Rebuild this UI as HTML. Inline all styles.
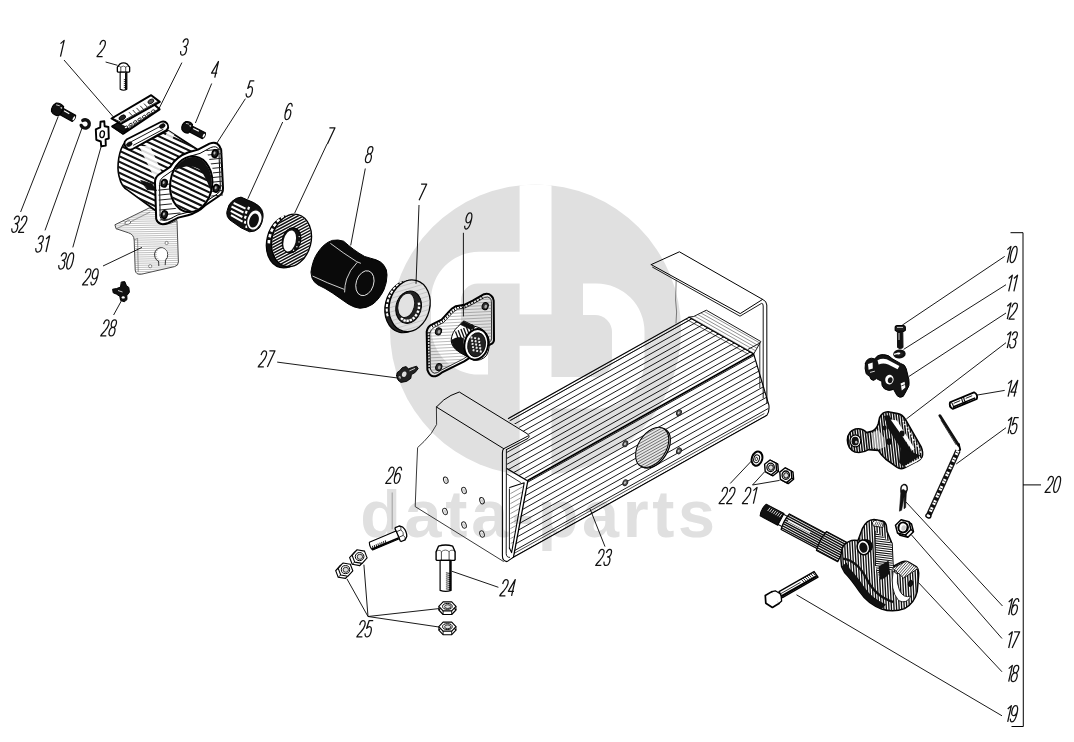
<!DOCTYPE html>
<html><head><meta charset="utf-8"><title>diagram</title>
<style>
html,body{margin:0;padding:0;background:#fff;}
body{width:1074px;height:742px;overflow:hidden;font-family:"Liberation Sans",sans-serif;}
svg{display:block}
.sem{font-family:"Liberation Sans",sans-serif;font-style:italic;font-size:22px;fill:#000;fill-opacity:0;}
.lb{font-family:"Liberation Sans",sans-serif;font-style:italic;font-size:23px;fill:#000;stroke:#fff;stroke-width:0.3px;}
</style></head><body>
<svg width="1074" height="742" viewBox="0 0 1074 742">
<defs><clipPath id="wmc"><circle cx="535.5" cy="330" r="145.5"/></clipPath><clipPath id="c1"><path d="M115.3,224.6 L149.5,207.8 L157,211 L157,222 Q165,227 177,220.5 L178.4,262 Q178.4,265.8 174.5,266.6 L141.5,274.2 Q135.6,275 135.2,270 L134.2,240 Q133.8,234.4 128.5,232.8 L116.4,228.8 Z"/></clipPath><clipPath id="c2"><path d="M124.5,143.0 C119,150 116.5,166 119,176 C121,185 124,188.5 128.3,190.6 L157.5,212 L158,180 L170,167 L188,154 L199,150.5 L168,130.5 L131,149.5 Z"/></clipPath><clipPath id="c3"><path d="M124.5,143.0 C119,150 116.5,166 119,176 C121,185 124,188.5 128.3,190.6 L157.5,212 L158,180 L170,167 L188,154 L199,150.5 L168,130.5 L131,149.5 Z"/></clipPath><clipPath id="c4"><path d="M206,150 L222,146 L223,196 L211,200 L213,170 Z"/></clipPath><clipPath id="c5"><path d="M158,186 L170,182 L172,205 L182,214 L160,224 Z"/></clipPath><clipPath id="c6"><ellipse cx="191.2" cy="184.2" rx="20.2" ry="27.2" transform="rotate(8 191.2 184.2)"/></clipPath><clipPath id="c7"><ellipse cx="291.5" cy="240.4" rx="19.0" ry="26.1" transform="rotate(14 291.5 240.4)"/></clipPath><clipPath id="c8"><ellipse cx="409.6" cy="305.8" rx="19.7" ry="25.7" transform="rotate(14 409.6 305.8)"/></clipPath><clipPath id="c9"><path d="M430.4,368.9 L429.8,333.7 Q430.5,329.3 434.2,327.4 L443.6,322.5 Q446.5,319.5 449.3,316.3 Q453,311.5 457.6,309.2 L465.4,307.8 L473.7,303.6 L484.6,297.4 Q488.3,296.2 490.1,298.2 Q491.3,299.5 491.4,301.6 L491.6,339.0 Q491.4,341.4 488.6,342.6 L463.2,359.0 L441.4,370.0 Q437,373.6 434.3,373.2 Q431.6,372.8 430.4,368.9 Z"/></clipPath><clipPath id="c10"><path d="M694.1,316.3 L706.3,310.2 L760.8,341.5 L753.7,354 L689.1,317.3 Z"/></clipPath><clipPath id="c11"><path d="M508,418.7 L689.1,317.3 L753.7,354.0 L527.8,480.5 L507.2,468.7 L506.4,447.5 L529.3,435.2 Z"/></clipPath><clipPath id="c12"><path d="M527.8,480.5 L753.7,354.0 L768.9,405.2 L766.9,415.3 L512.9,557.6 Z"/></clipPath><clipPath id="c13"><ellipse cx="652.2" cy="447.4" rx="13.5" ry="21.6" transform="rotate(32 652.2 447.4)"/></clipPath><clipPath id="c14"><path d="M510.4,489.4 L523.0,485.2 L512.2,546 L510.4,543 Z"/></clipPath><clipPath id="c15"><path d="M847.4,440 Q847.6,431.4 855.4,429.0 Q862,427.6 866.6,432.6 L871.6,431.4 Q876.6,429.4 878.4,423.4 L879.6,417.6 Q882.4,411.8 888,411.8 L897.6,413.6 Q902.6,414.6 905.4,419.4 L921.0,446.6 Q923.6,452.6 922.0,457.0 Q920.6,459.8 917,461.4 L904.6,467.8 Q900.6,469.6 897.2,467.4 L885.6,459.0 Q881,455.0 878.4,450.4 L868.6,449.6 Q862,453.6 855,452.0 Q847.6,449 847.4,440 Z"/></clipPath><clipPath id="c16"><path d="M847.4,440 Q847.6,431.4 855.4,429.0 Q862,427.6 866.6,432.6 L871.6,431.4 Q876.6,429.4 878.4,423.4 L879.6,417.6 Q882.4,411.8 888,411.8 L897.6,413.6 Q902.6,414.6 905.4,419.4 L921.0,446.6 Q923.6,452.6 922.0,457.0 Q920.6,459.8 917,461.4 L904.6,467.8 Q900.6,469.6 897.2,467.4 L885.6,459.0 Q881,455.0 878.4,450.4 L868.6,449.6 Q862,453.6 855,452.0 Q847.6,449 847.4,440 Z"/></clipPath><clipPath id="c17"><path d="M25,-8.8 L66,-8.8 L66,8.8 L25,8.8 Q22.8,0 25,-8.8 Z"/></clipPath><clipPath id="c18"><path d="M66,-10.6 Q63.6,0 66,10.6 L90,10.6 L90,-10.6 Z"/></clipPath><clipPath id="c19"><path d="M843.4,545.6 Q850,538.6 858,540.6 L862.4,528.6 Q866.4,519.6 874,519.4 L882.6,521 Q886.4,522.6 886.6,527.6 L887.0,531.4 L892.0,543.6 L893.0,566.4 L899.6,563.0 Q904.6,560 909.0,562.4 L916.6,567.0 Q919.2,570.0 918.6,575.6 L917.2,591.6 Q914.6,603.0 904.6,608.6 Q893,612.8 881.6,609.0 Q867.6,603.6 859.6,591.6 Q851.6,579.6 844.6,572.4 L841.6,566.6 Q839.6,553 843.4,545.6 Z"/></clipPath><clipPath id="c20"><path d="M843.4,545.6 Q850,538.6 858,540.6 L862.4,528.6 Q866.4,519.6 874,519.4 L882.6,521 Q886.4,522.6 886.6,527.6 L887.0,531.4 L892.0,543.6 L893.0,566.4 L899.6,563.0 Q904.6,560 909.0,562.4 L916.6,567.0 Q919.2,570.0 918.6,575.6 L917.2,591.6 Q914.6,603.0 904.6,608.6 Q893,612.8 881.6,609.0 Q867.6,603.6 859.6,591.6 Q851.6,579.6 844.6,572.4 L841.6,566.6 Q839.6,553 843.4,545.6 Z"/></clipPath><clipPath id="c21"><path d="M875.0,531.0 L892.0,543.4 L893.0,569.0 L880.0,579.6 L875.4,566 Z"/></clipPath><clipPath id="c22"><path d="M892.6,568.2 L906.5,561.0 L918.5,568.2 L903.6,578.0 Z"/></clipPath></defs>
<rect width="1074" height="742" fill="#fff"/>
<circle cx="535.5" cy="330" r="145.5" fill="#e0e0e0"/>
<g clip-path="url(#wmc)" fill="#fff">
<rect x="519.6" y="180" width="31.9" height="134.4"/>
<rect x="519.6" y="345.8" width="31.9" height="140"/>
<path d="M520,251.8 L479,251.8 A48,48 0 0 0 431,299.8 L431,326.6 A48,48 0 0 0 479,374.6 L488,374.6 L488,345.6 L478,345.6 A17,17 0 0 1 461,328.6 L461,300.5 A17,17 0 0 1 478,283.5 L520,283.5 Z"/>
<path d="M551,408.5 L596.5,408.5 A48,48 0 0 0 644.5,360.5 L644.5,331.5 A48,48 0 0 0 596.5,283.5 L583,283.5 L583,315 L595,315 A17,17 0 0 1 612,332 L612,360 A17,17 0 0 1 595,377 L551,377 Z"/>
</g>
<text x="360.3" y="537" font-family="Liberation Sans, sans-serif" font-weight="bold" font-size="66.5" letter-spacing="3.7" fill="#e0e0e0">data-parts</text>
<g transform="translate(123.5,63.3) rotate(90)">
<path d="M0.8,-3.7500000000000004 Q-1.6,0 0.8,3.7500000000000004 L3.738,6.15 L8.3,6.15 L8.9,5.3500000000000005 L8.9,-5.3500000000000005 L8.3,-6.15 L3.738,-6.15 Z" fill="#fff" stroke="#000" stroke-width="1.3" stroke-linejoin="round" stroke-linecap="round" />
<line x1="3.7" y1="-2.2" x2="8.9" y2="-2.2" stroke="#000" stroke-width="0.7" />
<line x1="3.7" y1="2.7" x2="8.9" y2="2.7" stroke="#000" stroke-width="0.7" />
<path d="M3.738,-6.15 Q1.7800000000000002,-4.1000000000000005 3.738,-2.2363636363636363 Q1.7800000000000002,0 3.738,2.7333333333333334 Q1.9580000000000002,4.1000000000000005 3.738,6.15" fill="none" stroke="#000" stroke-width="0.6" stroke-linejoin="round" stroke-linecap="round" />
<path d="M8.9,-3.35 L26.0,-3.35 Q27.8,0 26.0,3.35 L8.9,3.35 Z" fill="#fff" stroke="#000" stroke-width="1.1" stroke-linejoin="round" stroke-linecap="round" />
<line x1="16.1" y1="-0.3" x2="16.9" y2="-3.1" stroke="#000" stroke-width="0.8" />
<line x1="18.1" y1="-0.3" x2="18.9" y2="-3.1" stroke="#000" stroke-width="0.8" />
<line x1="20.1" y1="-0.3" x2="20.9" y2="-3.1" stroke="#000" stroke-width="0.8" />
<line x1="22.1" y1="-0.3" x2="22.9" y2="-3.1" stroke="#000" stroke-width="0.8" />
<line x1="24.1" y1="-0.3" x2="24.9" y2="-3.1" stroke="#000" stroke-width="0.8" />
<line x1="9.4" y1="-2.4" x2="26.0" y2="-2.4" stroke="#000" stroke-width="1.7" />
</g>
<g transform="translate(52.5,106.5) rotate(29)">
<path d="M10,-3.5 L24.5,-3.5 Q26.5,0 24.5,3.5 L10,3.5 Z" fill="#111" stroke="#000" stroke-width="1.2" stroke-linejoin="round" stroke-linecap="round" />
<line x1="12.2" y1="-1.8" x2="18.2" y2="-1.8" stroke="#fff" stroke-width="1.2" />
<ellipse cx="24.4" cy="0.0" rx="0.9" ry="2.3" transform="rotate(0 24.4 0.0)" fill="#fff" stroke="none" stroke-width="1" />
<path d="M1.6,-4.9 Q5.5,-7.3 9.8,-5.3 Q11.6,0 9.8,5.3 Q5.5,7.3 1.6,4.9 Q-1.6,0 1.6,-4.9 Z" fill="#111" stroke="#000" stroke-width="1.2" stroke-linejoin="round" stroke-linecap="round" />
<line x1="2.4" y1="-3.3" x2="6.1" y2="-4.1" stroke="#ddd" stroke-width="0.9" />
<ellipse cx="8.4" cy="-3.1" rx="1.0" ry="0.7" transform="rotate(0 8.4 -3.1)" fill="#ddd" stroke="none" stroke-width="1" />
</g>
<g transform="translate(182.5,124.8) rotate(27)">
<path d="M9,-3.25 L24,-3.25 Q26.0,0 24,3.25 L9,3.25 Z" fill="#111" stroke="#000" stroke-width="1.2" stroke-linejoin="round" stroke-linecap="round" />
<line x1="11.2" y1="-1.6" x2="17.5" y2="-1.6" stroke="#fff" stroke-width="1.2" />
<ellipse cx="23.9" cy="0.0" rx="0.9" ry="2.0" transform="rotate(0 23.9 0.0)" fill="#fff" stroke="none" stroke-width="1" />
<path d="M1.6,-4.4 Q5.0,-6.8 8.8,-4.8 Q10.6,0 8.8,4.8 Q5.0,6.8 1.6,4.4 Q-1.6,0 1.6,-4.4 Z" fill="#111" stroke="#000" stroke-width="1.2" stroke-linejoin="round" stroke-linecap="round" />
<line x1="2.4" y1="-2.8" x2="5.5" y2="-3.6" stroke="#ddd" stroke-width="0.9" />
<ellipse cx="7.4" cy="-2.6" rx="1.0" ry="0.7" transform="rotate(0 7.4 -2.6)" fill="#ddd" stroke="none" stroke-width="1" />
</g>
<path d="M82.8,120.4 A4.2,4.2 0 1 1 81.2,125.4" fill="none" stroke="#111" stroke-width="3.4" stroke-linejoin="round" stroke-linecap="round" />
<path d="M100.5,121.8 L104.3,121.2 L104.6,126.2 L108.4,127 L108.8,138.5 L105.6,139.3 L105.8,145.6 L101.2,146.3 L100.8,141.5 L96.3,139.8 L95.8,129.3 L100.2,127.4 Z" fill="#fff" stroke="#000" stroke-width="1.9" stroke-linejoin="round" stroke-linecap="round" />
<ellipse cx="102.2" cy="134.3" rx="2.2" ry="3.4" transform="rotate(10 102.2 134.3)" fill="none" stroke="#000" stroke-width="1.3" />
<path d="M112.2,126.4 L152.5,103.0 L159.6,109.3 L123.0,133.8 Z" fill="#fff" stroke="#000" stroke-width="2.0" stroke-linejoin="round" stroke-linecap="round" />
<path d="M112.2,126.4 L118.0,123.0 L129.0,128.5 L123.0,133.8 Z" fill="#111" stroke="#000" stroke-width="0.8" stroke-linejoin="round" stroke-linecap="round" />
<path d="M113.8,127.0 L123.2,131.8 L157.5,109.6" fill="none" stroke="#000" stroke-width="0.8" stroke-linejoin="round" stroke-linecap="round" />
<ellipse cx="126.0" cy="127.4" rx="1.9" ry="1.1" transform="rotate(-30 126.0 127.4)" fill="#fff" stroke="#000" stroke-width="0.8" />
<ellipse cx="130.5" cy="124.7" rx="1.9" ry="1.1" transform="rotate(-30 130.5 124.7)" fill="#fff" stroke="#000" stroke-width="0.8" />
<ellipse cx="135.0" cy="122.0" rx="1.9" ry="1.1" transform="rotate(-30 135.0 122.0)" fill="#fff" stroke="#000" stroke-width="0.8" />
<ellipse cx="139.5" cy="119.3" rx="1.9" ry="1.1" transform="rotate(-30 139.5 119.3)" fill="#fff" stroke="#000" stroke-width="0.8" />
<ellipse cx="144.0" cy="116.6" rx="1.9" ry="1.1" transform="rotate(-30 144.0 116.6)" fill="#fff" stroke="#000" stroke-width="0.8" />
<ellipse cx="148.5" cy="113.9" rx="1.9" ry="1.1" transform="rotate(-30 148.5 113.9)" fill="#fff" stroke="#000" stroke-width="0.8" />
<ellipse cx="153.0" cy="111.2" rx="1.9" ry="1.1" transform="rotate(-30 153.0 111.2)" fill="#fff" stroke="#000" stroke-width="0.8" />
<path d="M111.5,118.5 L151.2,95.2 L159.8,101.9 L120.8,123.9 Z" fill="#fff" stroke="#000" stroke-width="2.0" stroke-linejoin="round" stroke-linecap="round" />
<path d="M113.6,118.8 L121.0,122.2 L157.6,101.6" fill="none" stroke="#000" stroke-width="0.8" stroke-linejoin="round" stroke-linecap="round" />
<ellipse cx="122.3" cy="117.6" rx="3.6" ry="2.2" transform="rotate(-30 122.3 117.6)" fill="#222" stroke="#000" stroke-width="0.8" />
<ellipse cx="150.9" cy="101.4" rx="3.2" ry="2.0" transform="rotate(-30 150.9 101.4)" fill="#555" stroke="#000" stroke-width="0.8" />
<line x1="129.0" y1="112.2" x2="132.2" y2="115.6" stroke="#000" stroke-width="0.8" />
<line x1="132.8" y1="110.0" x2="135.9" y2="113.5" stroke="#000" stroke-width="0.8" />
<line x1="136.5" y1="107.9" x2="139.7" y2="111.3" stroke="#000" stroke-width="0.8" />
<line x1="140.2" y1="105.8" x2="143.4" y2="109.2" stroke="#000" stroke-width="0.8" />
<line x1="144.0" y1="103.6" x2="147.2" y2="107.0" stroke="#000" stroke-width="0.8" />
<path d="M115.3,224.6 L149.5,207.8 L157,211 L157,222 Q165,227 177,220.5 L178.4,262 Q178.4,265.8 174.5,266.6 L141.5,274.2 Q135.6,275 135.2,270 L134.2,240 Q133.8,234.4 128.5,232.8 L116.4,228.8 Z" fill="#fff" stroke="#333" stroke-width="0.9" stroke-linejoin="round" stroke-linecap="round" />
<path clip-path="url(#c1)" d="M112.0,205.0 L182.0,203.6 M112.0,207.1 L182.0,205.7 M112.0,209.2 L182.0,207.8 M112.0,211.3 L182.0,209.9 M112.0,213.4 L182.0,212.0 M112.0,215.5 L182.0,214.1 M112.0,217.6 L182.0,216.2 M112.0,219.7 L182.0,218.3 M112.0,221.8 L182.0,220.4 M112.0,223.9 L182.0,222.5 M112.0,226.0 L182.0,224.6 M112.0,228.1 L182.0,226.7 M112.0,230.2 L182.0,228.8 M112.0,232.3 L182.0,230.9 M112.0,234.4 L182.0,233.0 M112.0,236.5 L182.0,235.1 M112.0,238.6 L182.0,237.2 M112.0,240.7 L182.0,239.3 M112.0,242.8 L182.0,241.4 M112.0,244.9 L182.0,243.5 M112.0,247.0 L182.0,245.6 M112.0,249.1 L182.0,247.7 M112.0,251.2 L182.0,249.8 M112.0,253.3 L182.0,251.9 M112.0,255.4 L182.0,254.0 M112.0,257.5 L182.0,256.1 M112.0,259.6 L182.0,258.2 M112.0,261.7 L182.0,260.3 M112.0,263.8 L182.0,262.4 M112.0,265.9 L182.0,264.5 M112.0,268.0 L182.0,266.6 M112.0,270.1 L182.0,268.7 M112.0,272.2 L182.0,270.8 M112.0,274.3 L182.0,272.9 M112.0,276.4 L182.0,275.0 M112.0,278.5 L182.0,277.1" fill="none" stroke="#777" stroke-width="0.45"/>
<path d="M116.4,228.8 L149.8,212.2 M134.2,240 L137.6,238.4 L138.2,271.5" fill="none" stroke="#555" stroke-width="0.6" stroke-linejoin="round" stroke-linecap="round" />
<path d="M158.6,261.5 A6.6,7.2 0 1 1 165.5,260.2 L165.2,264.8 M158.6,261.5 L158.8,265.6" fill="none" stroke="#222" stroke-width="0.9" stroke-linejoin="round" stroke-linecap="round" />
<ellipse cx="162.0" cy="254.2" rx="5.2" ry="6.0" transform="rotate(0 162.0 254.2)" fill="#fff" stroke="none" stroke-width="1" />
<ellipse cx="127.8" cy="222.6" rx="3.0" ry="1.7" transform="rotate(-15 127.8 222.6)" fill="#fff" stroke="#444" stroke-width="0.7" />
<ellipse cx="166.6" cy="243.0" rx="1.6" ry="1.6" transform="rotate(0 166.6 243.0)" fill="#fff" stroke="#444" stroke-width="0.6" />
<ellipse cx="150.2" cy="266.2" rx="1.6" ry="1.6" transform="rotate(0 150.2 266.2)" fill="#fff" stroke="#444" stroke-width="0.6" />
<path d="M124.5,143.0 C119,150 116.5,166 119,176 C121,185 124,188.5 128.3,190.6 L157.5,212 L158,180 L170,167 L188,154 L199,150.5 L168,130.5 L131,149.5 Z" fill="#fff" stroke="#000" stroke-width="1.6" stroke-linejoin="round" stroke-linecap="round" />
<path clip-path="url(#c2)" d="M112.0,75.8 L205.0,119.5 M112.0,81.3 L205.0,125.0 M112.0,86.8 L205.0,130.5 M112.0,92.3 L205.0,136.0 M112.0,97.8 L205.0,141.5 M112.0,103.3 L205.0,147.0 M112.0,108.8 L205.0,152.5 M112.0,114.3 L205.0,158.0 M112.0,119.8 L205.0,163.5 M112.0,125.3 L205.0,169.0 M112.0,130.8 L205.0,174.5 M112.0,136.3 L205.0,180.0 M112.0,141.8 L205.0,185.5 M112.0,147.3 L205.0,191.0 M112.0,152.8 L205.0,196.5 M112.0,158.3 L205.0,202.0 M112.0,163.8 L205.0,207.5 M112.0,169.3 L205.0,213.0 M112.0,174.8 L205.0,218.5 M112.0,180.3 L205.0,224.0 M112.0,185.8 L205.0,229.5 M112.0,191.3 L205.0,235.0 M112.0,196.8 L205.0,240.5 M112.0,202.3 L205.0,246.0 M112.0,207.8 L205.0,251.5 M112.0,213.3 L205.0,257.0" fill="none" stroke="#111" stroke-width="2.0"/>
<path clip-path="url(#c3)" d="M139,146 L150,146 L168,186 L160,190 Z" fill="#fff" opacity="0.85"/>
<path clip-path="url(#c3)" d="M170,128 L176,131 L172,140 L165,136 Z" fill="#fff" opacity="0.8"/>
<path d="M124.8,141.5 Q123.6,145.5 127.5,148.8 Q130,150.3 133,148.8 L166.2,130.2 Q169.6,127.6 167.2,123.6 Q164.6,120.4 160.8,122.0 L127.0,139.2 Z" fill="#fff" stroke="#000" stroke-width="1.8" stroke-linejoin="round" stroke-linecap="round" />
<path d="M131.5,141.6 L160.5,126.2 M133.5,145.2 L163,129.4" fill="none" stroke="#000" stroke-width="0.9" stroke-linejoin="round" stroke-linecap="round" />
<ellipse cx="129.3" cy="144.2" rx="3.0" ry="2.0" transform="rotate(-28 129.3 144.2)" fill="#111" stroke="#000" stroke-width="0.6" />
<ellipse cx="162.3" cy="126.0" rx="3.0" ry="2.0" transform="rotate(-28 162.3 126.0)" fill="#111" stroke="#000" stroke-width="0.6" />
<path d="M155.0,182.5 Q155.0,177.5 158.6,174.8 L170.5,166.6 Q176.5,156.5 188.5,152.3 L198,149.6 L209.5,143.6 Q216.5,141.0 219.4,146.0 L221.2,150 L223.0,188.0 Q223.2,193.5 219.0,196.0 L205,205.5 Q198,212.5 188.0,215.2 L178.4,217.6 L168.2,223.0 Q158.8,226.6 156.2,219.0 Z" fill="#fff" stroke="#000" stroke-width="2.0" stroke-linejoin="round" stroke-linecap="round" />
<path d="M159.6,184.0 Q159.6,179.6 162.6,177.4 L173.2,170.0 Q178.8,160.2 190.2,156.2 L200.0,153.4 L210.6,147.6 Q216.6,145.2 218.8,149.4 L220.4,188.0 Q220.6,192.0 217.0,194.2 L203.6,203.0 Q197,209.6 187.4,212.4 L178.0,214.8 L168.6,219.6 Q161.2,222.4 160.2,216.6 Z" fill="none" stroke="#000" stroke-width="1.0" stroke-linejoin="round" stroke-linecap="round" />
<path clip-path="url(#c4)" d="M200.0,142.0 L226.0,139.4 M200.0,146.6 L226.0,144.0 M200.0,151.2 L226.0,148.6 M200.0,155.8 L226.0,153.2 M200.0,160.4 L226.0,157.8 M200.0,165.0 L226.0,162.4 M200.0,169.6 L226.0,167.0 M200.0,174.2 L226.0,171.6 M200.0,178.8 L226.0,176.2 M200.0,183.4 L226.0,180.8 M200.0,188.0 L226.0,185.4 M200.0,192.6 L226.0,190.0 M200.0,197.2 L226.0,194.6 M200.0,201.8 L226.0,199.2 M200.0,206.4 L226.0,203.8 M200.0,211.0 L226.0,208.4 M200.0,215.6 L226.0,213.0 M200.0,220.2 L226.0,217.6 M200.0,224.8 L226.0,222.2" fill="none" stroke="#222" stroke-width="1.0"/>
<path clip-path="url(#c5)" d="M150.0,171.0 L190.0,167.0 M150.0,176.0 L190.0,172.0 M150.0,181.0 L190.0,177.0 M150.0,186.0 L190.0,182.0 M150.0,191.0 L190.0,187.0 M150.0,196.0 L190.0,192.0 M150.0,201.0 L190.0,197.0 M150.0,206.0 L190.0,202.0 M150.0,211.0 L190.0,207.0 M150.0,216.0 L190.0,212.0 M150.0,221.0 L190.0,217.0 M150.0,226.0 L190.0,222.0 M150.0,231.0 L190.0,227.0" fill="none" stroke="#222" stroke-width="1.0"/>
<ellipse cx="191.2" cy="184.2" rx="21.0" ry="28.0" transform="rotate(8 191.2 184.2)" fill="#fff" stroke="#000" stroke-width="2"/>
<g clip-path="url(#c6)">
<path d="M165,138.0 L215,161.5 M165,143.6 L215,167.1 M165,149.2 L215,172.7 M165,154.8 L215,178.3 M165,160.4 L215,183.9 M165,166.0 L215,189.5 M165,171.6 L215,195.1 M165,177.2 L215,200.7 M165,182.8 L215,206.3 M165,188.4 L215,211.9 M165,194.0 L215,217.5 M165,199.6 L215,223.1 M165,205.2 L215,228.7 M165,210.8 L215,234.3 M165,216.4 L215,239.9" stroke="#111" stroke-width="2.1" fill="none"/>
<path d="M174,164 Q190,150 206,158 Q216,168 213,200 Q208,178 199,169 Q189,163 176,170 Z" fill="#111"/>
</g>
<ellipse cx="164.2" cy="183.2" rx="2.9" ry="3.8" transform="rotate(15 164.2 183.2)" fill="#222" stroke="#000" stroke-width="1.5" />
<ellipse cx="163.7" cy="182.6" rx="1.0" ry="1.5" transform="rotate(15 163.7 182.6)" fill="#bbb" stroke="none" stroke-width="1" />
<ellipse cx="215.0" cy="153.6" rx="2.9" ry="3.8" transform="rotate(15 215.0 153.6)" fill="#222" stroke="#000" stroke-width="1.5" />
<ellipse cx="214.5" cy="153.0" rx="1.0" ry="1.5" transform="rotate(15 214.5 153.0)" fill="#bbb" stroke="none" stroke-width="1" />
<ellipse cx="216.2" cy="188.4" rx="2.9" ry="3.8" transform="rotate(15 216.2 188.4)" fill="#222" stroke="#000" stroke-width="1.5" />
<ellipse cx="215.7" cy="187.8" rx="1.0" ry="1.5" transform="rotate(15 215.7 187.8)" fill="#bbb" stroke="none" stroke-width="1" />
<ellipse cx="164.4" cy="214.6" rx="2.9" ry="3.8" transform="rotate(15 164.4 214.6)" fill="#222" stroke="#000" stroke-width="1.5" />
<ellipse cx="163.9" cy="214.0" rx="1.0" ry="1.5" transform="rotate(15 163.9 214.0)" fill="#bbb" stroke="none" stroke-width="1" />
<path d="M141,180.5 L152,184 L156.5,190.5 L147.5,189.5 Z" fill="#111" stroke="#000" stroke-width="0.8" stroke-linejoin="round" stroke-linecap="round" />
<path d="M121.6,282 L124.8,281.6 L126.4,285.6 L128.8,287.4 L129.4,292.2 L126.8,295.6 L127,299.6 L124.2,301.8 L120.6,300.4 L119.8,296.4 L116.6,294.2 L113.2,292.8 L112.6,289.2 L116.4,288.6 L120.2,287.2 Z" fill="#111" stroke="#000" stroke-width="1.0" stroke-linejoin="round" stroke-linecap="round" />
<ellipse cx="123.2" cy="297.4" rx="1.6" ry="1.2" transform="rotate(0 123.2 297.4)" fill="#fff" stroke="none" stroke-width="1" />
<line x1="118.0" y1="290.5" x2="122.5" y2="292.0" stroke="#fff" stroke-width="0.8" />
<path d="M227.3,210 Q228.5,204 231.9,201.5 Q236,197.5 241,197.1 L253.7,202.6 Q259.5,205.5 261.7,209.5 Q263.6,213.5 263,217.5 Q262.3,223.5 259.4,227.8 Q255.5,232 249.6,231.8 L241,227.8 L229.6,219.8 Q226.4,216.5 226.7,212.9 Z" fill="#111" stroke="#000" stroke-width="1.0" stroke-linejoin="round" stroke-linecap="round" />
<line x1="231.5" y1="206.5" x2="243.5" y2="212.5" stroke="#fff" stroke-width="2.0" />
<line x1="230.8" y1="210.8" x2="242.4" y2="217.0" stroke="#fff" stroke-width="2.0" />
<line x1="231.0" y1="215.2" x2="242.6" y2="221.6" stroke="#fff" stroke-width="2.0" />
<line x1="233.6" y1="203.0" x2="245.5" y2="208.6" stroke="#fff" stroke-width="2.0" />
<rect x="245.1" y="210.8" width="2.2" height="2.8" fill="#fff" transform="rotate(20 246.2 212.2)"/>
<rect x="244.2" y="215.8" width="2.2" height="2.8" fill="#fff" transform="rotate(20 245.3 217.2)"/>
<rect x="244.1" y="220.8" width="2.2" height="2.8" fill="#fff" transform="rotate(20 245.2 222.2)"/>
<rect x="245.5" y="225.2" width="2.2" height="2.8" fill="#fff" transform="rotate(20 246.6 226.6)"/>
<rect x="247.5" y="206.8" width="2.2" height="2.8" fill="#fff" transform="rotate(20 248.6 208.2)"/>
<ellipse cx="254.4" cy="220.0" rx="7.4" ry="10.4" transform="rotate(18 254.4 220.0)" fill="#fff" stroke="#111" stroke-width="1.2" />
<ellipse cx="254.0" cy="220.6" rx="4.6" ry="7.2" transform="rotate(18 254.0 220.6)" fill="#111" stroke="none" stroke-width="1" />
<ellipse cx="286.3" cy="241.6" rx="19.5" ry="26.6" transform="rotate(14 286.3 241.6)" fill="#111" stroke="#000" stroke-width="1.2" />
<rect x="267.3" y="240.5" width="3.4" height="2.6" fill="#fff" transform="rotate(272 268.9 241.8)"/>
<rect x="268.3" y="234.5" width="3.4" height="2.6" fill="#fff" transform="rotate(285 269.9 235.8)"/>
<rect x="270.3" y="228.9" width="3.4" height="2.6" fill="#fff" transform="rotate(298 271.9 230.2)"/>
<rect x="273.2" y="223.8" width="3.4" height="2.6" fill="#fff" transform="rotate(311 274.8 225.1)"/>
<rect x="276.7" y="219.5" width="3.4" height="2.6" fill="#fff" transform="rotate(324 278.3 220.8)"/>
<rect x="280.9" y="216.2" width="3.4" height="2.6" fill="#fff" transform="rotate(337 282.5 217.5)"/>
<rect x="285.3" y="214.2" width="3.4" height="2.6" fill="#fff" transform="rotate(350 286.9 215.5)"/>
<ellipse cx="291.5" cy="240.4" rx="19.5" ry="26.6" transform="rotate(14 291.5 240.4)" fill="#fff" stroke="#000" stroke-width="1.4" />
<path clip-path="url(#c7)" d="M261.5,196.4 L321.5,164.4 M261.5,199.4 L321.5,167.4 M261.5,202.4 L321.5,170.4 M261.5,205.4 L321.5,173.4 M261.5,208.4 L321.5,176.4 M261.5,211.4 L321.5,179.4 M261.5,214.4 L321.5,182.4 M261.5,217.4 L321.5,185.4 M261.5,220.4 L321.5,188.4 M261.5,223.4 L321.5,191.4 M261.5,226.4 L321.5,194.4 M261.5,229.4 L321.5,197.4 M261.5,232.4 L321.5,200.4 M261.5,235.4 L321.5,203.4 M261.5,238.4 L321.5,206.4 M261.5,241.4 L321.5,209.4 M261.5,244.4 L321.5,212.4 M261.5,247.4 L321.5,215.4 M261.5,250.4 L321.5,218.4 M261.5,253.4 L321.5,221.4 M261.5,256.4 L321.5,224.4 M261.5,259.4 L321.5,227.4 M261.5,262.4 L321.5,230.4 M261.5,265.4 L321.5,233.4 M261.5,268.4 L321.5,236.4 M261.5,271.4 L321.5,239.4 M261.5,274.4 L321.5,242.4 M261.5,277.4 L321.5,245.4 M261.5,280.4 L321.5,248.4 M261.5,283.4 L321.5,251.4 M261.5,286.4 L321.5,254.4 M261.5,289.4 L321.5,257.4 M261.5,292.4 L321.5,260.4 M261.5,295.4 L321.5,263.4 M261.5,298.4 L321.5,266.4 M261.5,301.4 L321.5,269.4 M261.5,304.4 L321.5,272.4 M261.5,307.4 L321.5,275.4 M261.5,310.4 L321.5,278.4 M261.5,313.4 L321.5,281.4" stroke="#111" stroke-width="1.5" fill="none"/>
<ellipse cx="291.5" cy="240.4" rx="9.2" ry="12.8" transform="rotate(14 291.5 240.4)" fill="#111" stroke="#000" stroke-width="1.0" />
<ellipse cx="289.7" cy="241.0" rx="6.0" ry="10.8" transform="rotate(14 289.7 241.0)" fill="#fff" stroke="none" stroke-width="1" />
<ellipse cx="299.2" cy="236.6" rx="0.7" ry="0.7" transform="rotate(0 299.2 236.6)" fill="#fff" stroke="none" stroke-width="1" />
<ellipse cx="299.0" cy="241.9" rx="0.7" ry="0.7" transform="rotate(0 299.0 241.9)" fill="#fff" stroke="none" stroke-width="1" />
<ellipse cx="296.9" cy="246.8" rx="0.7" ry="0.7" transform="rotate(0 296.9 246.8)" fill="#fff" stroke="none" stroke-width="1" />
<ellipse cx="293.6" cy="250.3" rx="0.7" ry="0.7" transform="rotate(0 293.6 250.3)" fill="#fff" stroke="none" stroke-width="1" />
<path d="M311,271.9 Q312.5,260 317.8,252.5 Q324,243 332.3,240.4 Q338,239.2 343.6,241.2 Q348.5,245.5 353.3,249.2 Q359,253.5 364.7,256.5 Q370.5,258.2 376,259.8 Q381.5,261.8 384,265.4 Q387.2,269.6 387,275.1 Q387,282.5 384,289.7 Q379.5,299 372.7,304.2 Q366.5,308.3 359.8,308.3 Q354,307.5 348.5,304.2 L332.3,292.9 Q325,288 317.8,284.8 Q313.5,282 312.1,278.3 Z" fill="#0a0a0a" stroke="#000" stroke-width="1.0" stroke-linejoin="round" stroke-linecap="round" />
<path d="M330.7,243.6 Q343,253 356.6,261.6 L360.5,263.2" fill="none" stroke="#fff" stroke-width="0.8" stroke-linejoin="round" stroke-linecap="round" />
<path d="M357,262.6 Q349.5,270 346.6,279 Q344.6,285.5 344.6,292" fill="none" stroke="#fff" stroke-width="0.8" stroke-linejoin="round" stroke-linecap="round" />
<path d="M312.9,276.2 Q327,283 343.8,289.2" fill="none" stroke="#fff" stroke-width="0.8" stroke-linejoin="round" stroke-linecap="round" />
<ellipse cx="364.9" cy="283.2" rx="8.7" ry="12.8" transform="rotate(18 364.9 283.2)" fill="none" stroke="#fff" stroke-width="0.8" />
<ellipse cx="405.4" cy="306.8" rx="20.2" ry="26.2" transform="rotate(14 405.4 306.8)" fill="#222" stroke="#000" stroke-width="1.2" />
<rect x="385.8" y="313.8" width="3.0" height="2.0" fill="#fff" transform="rotate(254 387.3 314.8)"/>
<rect x="385.3" y="309.2" width="3.0" height="2.0" fill="#fff" transform="rotate(264 386.8 310.2)"/>
<rect x="385.5" y="304.5" width="3.0" height="2.0" fill="#fff" transform="rotate(275 387.0 305.5)"/>
<rect x="386.5" y="299.7" width="3.0" height="2.0" fill="#fff" transform="rotate(286 388.0 300.7)"/>
<rect x="388.0" y="295.2" width="3.0" height="2.0" fill="#fff" transform="rotate(296 389.5 296.2)"/>
<rect x="390.2" y="291.1" width="3.0" height="2.0" fill="#fff" transform="rotate(306 391.7 292.1)"/>
<rect x="392.9" y="287.4" width="3.0" height="2.0" fill="#fff" transform="rotate(317 394.4 288.4)"/>
<rect x="396.0" y="284.3" width="3.0" height="2.0" fill="#fff" transform="rotate(328 397.5 285.3)"/>
<rect x="399.5" y="281.9" width="3.0" height="2.0" fill="#fff" transform="rotate(338 401.0 282.9)"/>
<rect x="403.2" y="280.3" width="3.0" height="2.0" fill="#fff" transform="rotate(348 404.7 281.3)"/>
<rect x="406.9" y="279.5" width="3.0" height="2.0" fill="#fff" transform="rotate(359 408.4 280.5)"/>
<rect x="410.7" y="279.6" width="3.0" height="2.0" fill="#fff" transform="rotate(370 412.2 280.6)"/>
<ellipse cx="409.6" cy="305.8" rx="20.2" ry="26.2" transform="rotate(14 409.6 305.8)" fill="#e2e2e2" stroke="#000" stroke-width="1.3" />
<path clip-path="url(#c8)" d="M379.6,274.8 L439.6,256.8 M379.6,279.3 L439.6,261.3 M379.6,283.8 L439.6,265.8 M379.6,288.3 L439.6,270.3 M379.6,292.8 L439.6,274.8 M379.6,297.3 L439.6,279.3 M379.6,301.8 L439.6,283.8 M379.6,306.3 L439.6,288.3 M379.6,310.8 L439.6,292.8 M379.6,315.3 L439.6,297.3 M379.6,319.8 L439.6,301.8 M379.6,324.3 L439.6,306.3 M379.6,328.8 L439.6,310.8 M379.6,333.3 L439.6,315.3 M379.6,337.8 L439.6,319.8 M379.6,342.3 L439.6,324.3 M379.6,346.8 L439.6,328.8 M379.6,351.3 L439.6,333.3" stroke="#999" stroke-width="0.4" fill="none"/>
<ellipse cx="408.6" cy="307.2" rx="12.6" ry="16.4" transform="rotate(14 408.6 307.2)" fill="#222" stroke="#000" stroke-width="1.0" />
<rect x="417.8" y="302.6" width="2.4" height="2.4" fill="#fff" transform="rotate(-11 419.0 303.8)"/>
<rect x="417.7" y="306.6" width="2.4" height="2.4" fill="#fff" transform="rotate(6 418.9 307.8)"/>
<rect x="416.7" y="310.5" width="2.4" height="2.4" fill="#fff" transform="rotate(23 417.9 311.7)"/>
<rect x="414.8" y="314.1" width="2.4" height="2.4" fill="#fff" transform="rotate(40 416.0 315.3)"/>
<rect x="412.4" y="316.9" width="2.4" height="2.4" fill="#fff" transform="rotate(57 413.6 318.1)"/>
<rect x="409.5" y="318.8" width="2.4" height="2.4" fill="#fff" transform="rotate(74 410.7 320.0)"/>
<rect x="406.4" y="319.6" width="2.4" height="2.4" fill="#fff" transform="rotate(91 407.6 320.8)"/>
<rect x="403.4" y="319.2" width="2.4" height="2.4" fill="#fff" transform="rotate(108 404.6 320.4)"/>
<rect x="400.7" y="317.6" width="2.4" height="2.4" fill="#fff" transform="rotate(125 401.9 318.8)"/>
<ellipse cx="406.2" cy="305.4" rx="8.2" ry="12.4" transform="rotate(14 406.2 305.4)" fill="#e2e2e2" stroke="#111" stroke-width="1.0" />
<path d="M427.4,369.9 L426.7,331.7 Q427.5,326.5 431.7,324.6 L441.6,319.7 Q444.5,316.5 447.3,313.3 Q451,308.5 455.8,306.2 L464.2,304.8 L472.7,300.6 L484,294.2 Q488.5,293 491.1,295.6 Q493.5,297.5 493.7,300.6 L494,340.2 Q493.8,343 490.4,344.4 L464.2,361.4 L441.6,372.7 Q436.5,376.8 433.1,376.3 Q429.5,376 427.4,369.9 Z" fill="none" stroke="#000" stroke-width="2.0" stroke-linejoin="round" stroke-linecap="round" />
<path d="M430.4,368.9 L429.8,333.7 Q430.5,329.3 434.2,327.4 L443.6,322.5 Q446.5,319.5 449.3,316.3 Q453,311.5 457.6,309.2 L465.4,307.8 L473.7,303.6 L484.6,297.4 Q488.3,296.2 490.1,298.2 Q491.3,299.5 491.4,301.6 L491.6,339.0 Q491.4,341.4 488.6,342.6 L463.2,359.0 L441.4,370.0 Q437,373.6 434.3,373.2 Q431.6,372.8 430.4,368.9 Z" fill="none" stroke="#000" stroke-width="0.8" stroke-linejoin="round" stroke-linecap="round" />
<path clip-path="url(#c9)" d="M425.0,293.0 L496.0,289.4 M425.0,296.1 L496.0,292.6 M425.0,299.2 L496.0,295.7 M425.0,302.3 L496.0,298.8 M425.0,305.4 L496.0,301.9 M425.0,308.5 L496.0,305.0 M425.0,311.6 L496.0,308.1 M425.0,314.7 L496.0,311.2 M425.0,317.8 L496.0,314.3 M425.0,320.9 L496.0,317.4 M425.0,324.0 L496.0,320.5 M425.0,327.1 L496.0,323.6 M425.0,330.2 L496.0,326.7 M425.0,333.3 L496.0,329.8 M425.0,336.4 L496.0,332.9 M425.0,339.5 L496.0,336.0 M425.0,342.6 L496.0,339.1 M425.0,345.7 L496.0,342.2 M425.0,348.8 L496.0,345.3 M425.0,351.9 L496.0,348.4 M425.0,355.0 L496.0,351.5 M425.0,358.1 L496.0,354.6 M425.0,361.2 L496.0,357.7 M425.0,364.3 L496.0,360.8 M425.0,367.4 L496.0,363.9 M425.0,370.5 L496.0,367.0 M425.0,373.6 L496.0,370.1 M425.0,376.7 L496.0,373.2 M425.0,379.8 L496.0,376.3" fill="none" stroke="#666" stroke-width="0.45"/>
<path d="M427,333.0 L430,332.7 M427,335.9 L430,335.6 M427,338.8 L430,338.5 M427,341.7 L430,341.4 M427,344.6 L430,344.3 M427,347.5 L430,347.2 M427,350.4 L430,350.1 M427,353.3 L430,353.0 M427,356.2 L430,355.9 M427,359.1 L430,358.8 M427,362.0 L430,361.7 M427,364.9 L430,364.6 M427,367.8 L430,367.5 M431.7,324.6 L433.1,327.5 M434.2,323.4 L435.6,326.3 M436.6,322.1 L438.0,325.0 M439.1,320.9 L440.5,323.8 M441.6,319.7 L443.0,322.6 M443.5,317.6 L444.9,320.5 M445.4,315.4 L446.8,318.3 M447.3,313.3 L448.7,316.2 M449.4,311.5 L450.8,314.4 M451.6,309.8 L452.9,312.6 M453.7,308.0 L455.1,310.9 M455.8,306.2 L457.2,309.1 M458.6,305.7 L460.0,308.6 M461.4,305.3 L462.8,308.2 M464.2,304.8 L465.6,307.7 M467.0,303.4 L468.4,306.3 M469.9,302.0 L471.3,304.9 M472.7,300.6 L474.1,303.5 M475.5,299.0 L476.9,301.9 M478.4,297.4 L479.8,300.3 M481.2,295.8 L482.6,298.7" stroke="#000" stroke-width="1.0" fill="none"/>
<ellipse cx="438.5" cy="331.4" rx="3.0" ry="3.6" transform="rotate(20 438.5 331.4)" fill="#333" stroke="#000" stroke-width="1.0" />
<ellipse cx="439.0" cy="331.7" rx="1.3" ry="1.8" transform="rotate(20 439.0 331.7)" fill="#aaa" stroke="none" stroke-width="1" />
<ellipse cx="485.2" cy="306.2" rx="3.0" ry="3.6" transform="rotate(20 485.2 306.2)" fill="#333" stroke="#000" stroke-width="1.0" />
<ellipse cx="485.7" cy="306.5" rx="1.3" ry="1.8" transform="rotate(20 485.7 306.5)" fill="#aaa" stroke="none" stroke-width="1" />
<ellipse cx="438.8" cy="367.1" rx="3.0" ry="3.6" transform="rotate(20 438.8 367.1)" fill="#333" stroke="#000" stroke-width="1.0" />
<ellipse cx="439.3" cy="367.4" rx="1.3" ry="1.8" transform="rotate(20 439.3 367.4)" fill="#aaa" stroke="none" stroke-width="1" />
<path d="M464.2,321.1 L474.5,326.2 Q484,328 488.4,337 Q491,347 486.5,355.5 Q481,361.5 473.5,360 L460,352.5 Q451,347 451.2,340 Q452,332 457.5,327 Z" fill="#fff" stroke="#000" stroke-width="1.0" stroke-linejoin="round" stroke-linecap="round" />
<path d="M455.5,331.5 L458.9,340.5 M458.2,330.3 L461.6,339.3 M460.9,329.1 L464.3,338.1 M463.6,327.9 L467.0,336.9 M466.3,326.7 L469.7,335.7 M469.0,325.5 L472.4,334.5 M471.7,324.3 L475.1,333.3" stroke="#111" stroke-width="1.3" fill="none"/>
<path d="M463.5,321.6 L475,327 L471,329.5 L460.5,324.6 Z" fill="#111" stroke="#000" stroke-width="0.6" stroke-linejoin="round" stroke-linecap="round" />
<path d="M452,340 Q451,347 460,352.5 L467,356.4 Q462,346 463.6,338.5 Q458,336 452,340 Z" fill="#111" stroke="#000" stroke-width="0.6" stroke-linejoin="round" stroke-linecap="round" />
<ellipse cx="476.3" cy="344.4" rx="11.8" ry="15.4" transform="rotate(12 476.3 344.4)" fill="#fff" stroke="#000" stroke-width="2.0" />
<ellipse cx="476.6" cy="344.8" rx="8.8" ry="12.2" transform="rotate(12 476.6 344.8)" fill="#222" stroke="#000" stroke-width="0.8" />
<rect x="470.6" y="336.5" width="1.9" height="2.0" fill="#eee" transform="rotate(15 471.5 337.5)"/>
<rect x="471.1" y="339.7" width="1.9" height="2.0" fill="#eee" transform="rotate(15 472.0 340.7)"/>
<rect x="471.6" y="342.9" width="1.9" height="2.0" fill="#eee" transform="rotate(15 472.5 343.9)"/>
<rect x="472.1" y="346.1" width="1.9" height="2.0" fill="#eee" transform="rotate(15 473.0 347.1)"/>
<rect x="472.6" y="349.3" width="1.9" height="2.0" fill="#eee" transform="rotate(15 473.5 350.3)"/>
<rect x="474.2" y="337.1" width="1.9" height="2.0" fill="#eee" transform="rotate(15 475.1 338.1)"/>
<rect x="474.7" y="340.3" width="1.9" height="2.0" fill="#eee" transform="rotate(15 475.6 341.3)"/>
<rect x="475.2" y="343.5" width="1.9" height="2.0" fill="#eee" transform="rotate(15 476.1 344.5)"/>
<rect x="475.7" y="346.7" width="1.9" height="2.0" fill="#eee" transform="rotate(15 476.6 347.7)"/>
<rect x="476.2" y="349.9" width="1.9" height="2.0" fill="#eee" transform="rotate(15 477.1 350.9)"/>
<rect x="477.8" y="337.7" width="1.9" height="2.0" fill="#eee" transform="rotate(15 478.7 338.7)"/>
<rect x="478.3" y="340.9" width="1.9" height="2.0" fill="#eee" transform="rotate(15 479.2 341.9)"/>
<rect x="478.8" y="344.1" width="1.9" height="2.0" fill="#eee" transform="rotate(15 479.7 345.1)"/>
<rect x="479.3" y="347.3" width="1.9" height="2.0" fill="#eee" transform="rotate(15 480.2 348.3)"/>
<rect x="479.8" y="350.5" width="1.9" height="2.0" fill="#eee" transform="rotate(15 480.7 351.5)"/>
<path d="M396.6,375.6 Q396.2,371.8 399.6,370.8 L402.4,367.6 L406,366.6 L408.4,368.8 L412.6,367.4 L416.6,366.2 L418.2,368.6 L415.2,372.4 L411.4,374.6 L410.8,378.4 L406.6,381.4 L401,382.4 Q397.2,381 396.6,375.6 Z" fill="#222" stroke="#000" stroke-width="0.9" stroke-linejoin="round" stroke-linecap="round" />
<ellipse cx="404.2" cy="374.2" rx="2.2" ry="2.8" transform="rotate(20 404.2 374.2)" fill="#ddd" stroke="none" stroke-width="1" />
<line x1="409.5" y1="370.8" x2="415.0" y2="368.4" stroke="#ddd" stroke-width="0.9" />
<ellipse cx="399.6" cy="377.6" rx="1.2" ry="1.6" transform="rotate(0 399.6 377.6)" fill="#bbb" stroke="none" stroke-width="1" />
<path d="M651.2,264.6 L679.4,251.8 L762.6,299.4 Q766.6,301 766.8,305 L766.9,403" fill="none" stroke="#000" stroke-width="1.0" stroke-linejoin="round" stroke-linecap="round" />
<path d="M651.2,264.6 L740.2,313.6 L762.6,299.4" fill="none" stroke="#000" stroke-width="1.0" stroke-linejoin="round" stroke-linecap="round" />
<path d="M652.6,267.2 L740.0,316.2 L761.5,303.4 Q763.2,303 763.2,306 L763.2,398" fill="none" stroke="#000" stroke-width="0.9" stroke-linejoin="round" stroke-linecap="round" />
<path d="M676.2,280 L675.6,300 L676.6,312 L676.0,323" fill="none" stroke="#333" stroke-width="0.6" stroke-linejoin="round" stroke-linecap="round" />
<line x1="759.8" y1="342.5" x2="759.8" y2="388.0" stroke="#000" stroke-width="0.8" />
<path d="M694.1,316.3 L706.3,310.2 L760.8,341.5 L753.7,354 L689.1,317.3 Z" fill="none" stroke="#000" stroke-width="0.9" stroke-linejoin="round" stroke-linecap="round" />
<path clip-path="url(#c10)" d="M688.0,264.8 L764.0,308.0 M688.0,268.2 L764.0,311.4 M688.0,271.6 L764.0,314.8 M688.0,275.0 L764.0,318.2 M688.0,278.4 L764.0,321.6 M688.0,281.8 L764.0,325.0 M688.0,285.2 L764.0,328.4 M688.0,288.6 L764.0,331.8 M688.0,292.0 L764.0,335.2 M688.0,295.4 L764.0,338.6 M688.0,298.8 L764.0,342.0 M688.0,302.2 L764.0,345.4 M688.0,305.6 L764.0,348.8 M688.0,309.0 L764.0,352.2 M688.0,312.4 L764.0,355.6 M688.0,315.8 L764.0,359.0 M688.0,319.2 L764.0,362.4 M688.0,322.6 L764.0,365.8 M688.0,326.0 L764.0,369.2 M688.0,329.4 L764.0,372.6 M688.0,332.8 L764.0,376.0 M688.0,336.2 L764.0,379.4 M688.0,339.6 L764.0,382.8 M688.0,343.0 L764.0,386.2 M688.0,346.4 L764.0,389.6 M688.0,349.8 L764.0,393.0 M688.0,353.2 L764.0,396.4" fill="none" stroke="#222" stroke-width="0.5"/>
<line x1="747.8" y1="349.5" x2="759.5" y2="343.2" stroke="#000" stroke-width="0.9" />
<path clip-path="url(#c11)" d="M500.0,312.2 L760.0,166.6 M500.0,318.2 L760.0,172.6 M500.0,324.2 L760.0,178.6 M500.0,330.2 L760.0,184.6 M500.0,336.2 L760.0,190.6 M500.0,342.2 L760.0,196.6 M500.0,348.2 L760.0,202.6 M500.0,354.2 L760.0,208.6 M500.0,360.2 L760.0,214.6 M500.0,366.2 L760.0,220.6 M500.0,372.2 L760.0,226.6 M500.0,378.2 L760.0,232.6 M500.0,384.2 L760.0,238.6 M500.0,390.2 L760.0,244.6 M500.0,396.2 L760.0,250.6 M500.0,402.2 L760.0,256.6 M500.0,408.2 L760.0,262.6 M500.0,414.2 L760.0,268.6 M500.0,420.2 L760.0,274.6 M500.0,426.2 L760.0,280.6 M500.0,432.2 L760.0,286.6 M500.0,438.2 L760.0,292.6 M500.0,444.2 L760.0,298.6 M500.0,450.2 L760.0,304.6 M500.0,456.2 L760.0,310.6 M500.0,462.2 L760.0,316.6 M500.0,468.2 L760.0,322.6 M500.0,474.2 L760.0,328.6 M500.0,480.2 L760.0,334.6 M500.0,486.2 L760.0,340.6 M500.0,492.2 L760.0,346.6 M500.0,498.2 L760.0,352.6 M500.0,504.2 L760.0,358.6 M500.0,510.2 L760.0,364.6 M500.0,516.2 L760.0,370.6 M500.0,522.2 L760.0,376.6 M500.0,528.2 L760.0,382.6 M500.0,534.2 L760.0,388.6 M500.0,540.2 L760.0,394.6 M500.0,546.2 L760.0,400.6 M500.0,552.2 L760.0,406.6 M500.0,558.2 L760.0,412.6 M500.0,564.2 L760.0,418.6 M500.0,570.2 L760.0,424.6 M500.0,576.2 L760.0,430.6 M500.0,582.2 L760.0,436.6 M500.0,588.2 L760.0,442.6 M500.0,594.2 L760.0,448.6 M500.0,600.2 L760.0,454.6 M500.0,606.2 L760.0,460.6 M500.0,612.2 L760.0,466.6 M500.0,618.2 L760.0,472.6 M500.0,624.2 L760.0,478.6 M500.0,630.2 L760.0,484.6" fill="none" stroke="#000" stroke-width="0.9"/>
<line x1="508.0" y1="418.7" x2="689.1" y2="317.3" stroke="#000" stroke-width="1.1" />
<line x1="509.5" y1="420.9" x2="690.6" y2="319.5" stroke="#000" stroke-width="0.6" />
<line x1="689.1" y1="317.3" x2="753.7" y2="354.0" stroke="#000" stroke-width="1.0" />
<line x1="686.1" y1="319.1" x2="748.2" y2="354.2" stroke="#000" stroke-width="0.6" />
<path clip-path="url(#c12)" d="M505.0,354.6 L772.0,205.1 M505.0,360.7 L772.0,211.2 M505.0,366.8 L772.0,217.3 M505.0,372.9 L772.0,223.4 M505.0,379.0 L772.0,229.5 M505.0,385.1 L772.0,235.6 M505.0,391.2 L772.0,241.7 M505.0,397.3 L772.0,247.8 M505.0,403.4 L772.0,253.9 M505.0,409.5 L772.0,260.0 M505.0,415.6 L772.0,266.1 M505.0,421.7 L772.0,272.2 M505.0,427.8 L772.0,278.3 M505.0,433.9 L772.0,284.4 M505.0,440.0 L772.0,290.5 M505.0,446.1 L772.0,296.6 M505.0,452.2 L772.0,302.7 M505.0,458.3 L772.0,308.8 M505.0,464.4 L772.0,314.9 M505.0,470.5 L772.0,321.0 M505.0,476.6 L772.0,327.1 M505.0,482.7 L772.0,333.2 M505.0,488.8 L772.0,339.3 M505.0,494.9 L772.0,345.4 M505.0,501.0 L772.0,351.5 M505.0,507.1 L772.0,357.6 M505.0,513.2 L772.0,363.7 M505.0,519.3 L772.0,369.8 M505.0,525.4 L772.0,375.9 M505.0,531.5 L772.0,382.0 M505.0,537.6 L772.0,388.1 M505.0,543.7 L772.0,394.2 M505.0,549.8 L772.0,400.3 M505.0,555.9 L772.0,406.4 M505.0,562.0 L772.0,412.5 M505.0,568.1 L772.0,418.6 M505.0,574.2 L772.0,424.7 M505.0,580.3 L772.0,430.8 M505.0,586.4 L772.0,436.9 M505.0,592.5 L772.0,443.0 M505.0,598.6 L772.0,449.1 M505.0,604.7 L772.0,455.2 M505.0,610.8 L772.0,461.3 M505.0,616.9 L772.0,467.4 M505.0,623.0 L772.0,473.5 M505.0,629.1 L772.0,479.6 M505.0,635.2 L772.0,485.7 M505.0,641.3 L772.0,491.8 M505.0,647.4 L772.0,497.9 M505.0,653.5 L772.0,504.0 M505.0,659.6 L772.0,510.1 M505.0,665.7 L772.0,516.2 M505.0,671.8 L772.0,522.3 M505.0,677.9 L772.0,528.4 M505.0,684.0 L772.0,534.5 M505.0,690.1 L772.0,540.6 M505.0,696.2 L772.0,546.7 M505.0,702.3 L772.0,552.8 M505.0,708.4 L772.0,558.9" fill="none" stroke="#000" stroke-width="0.9"/>
<path d="M753.7,354.0 L768.9,405.2 Q769.6,411.5 766.9,415.3 L512.9,557.6" fill="none" stroke="#000" stroke-width="1.1" stroke-linejoin="round" stroke-linecap="round" />
<line x1="764.4" y1="413.5" x2="514.1" y2="553.4" stroke="#000" stroke-width="0.7" />
<line x1="527.8" y1="480.5" x2="753.7" y2="354.0" stroke="#000" stroke-width="1.9" />
<ellipse cx="653.8" cy="448.0" rx="13.9" ry="22.0" transform="rotate(32 653.8 448.0)" fill="#ddd" stroke="#000" stroke-width="1.2" />
<ellipse cx="652.2" cy="447.4" rx="13.9" ry="22.0" transform="rotate(32 652.2 447.4)" fill="#e6e6e6" stroke="#000" stroke-width="1.1" />
<path clip-path="url(#c13)" d="M627.2,421.4 L677.2,393.4 M627.2,424.3 L677.2,396.3 M627.2,427.2 L677.2,399.2 M627.2,430.1 L677.2,402.1 M627.2,433.0 L677.2,405.0 M627.2,435.9 L677.2,407.9 M627.2,438.8 L677.2,410.8 M627.2,441.7 L677.2,413.7 M627.2,444.6 L677.2,416.6 M627.2,447.5 L677.2,419.5 M627.2,450.4 L677.2,422.4 M627.2,453.3 L677.2,425.3 M627.2,456.2 L677.2,428.2 M627.2,459.1 L677.2,431.1 M627.2,462.0 L677.2,434.0 M627.2,464.9 L677.2,436.9 M627.2,467.8 L677.2,439.8 M627.2,470.7 L677.2,442.7 M627.2,473.6 L677.2,445.6 M627.2,476.5 L677.2,448.5 M627.2,479.4 L677.2,451.4 M627.2,482.3 L677.2,454.3 M627.2,485.2 L677.2,457.2 M627.2,488.1 L677.2,460.1 M627.2,491.0 L677.2,463.0 M627.2,493.9 L677.2,465.9 M627.2,496.8 L677.2,468.8 M627.2,499.7 L677.2,471.7" stroke="#222" stroke-width="0.6" fill="none"/>
<ellipse cx="625.3" cy="443.8" rx="2.3" ry="3.1" transform="rotate(25 625.3 443.8)" fill="#555" stroke="#222" stroke-width="0.9" />
<ellipse cx="625.0" cy="443.8" rx="0.9" ry="1.3" transform="rotate(25 625.0 443.8)" fill="#ccc" stroke="none" stroke-width="1" />
<ellipse cx="679.0" cy="412.7" rx="2.3" ry="3.1" transform="rotate(25 679.0 412.7)" fill="#555" stroke="#222" stroke-width="0.9" />
<ellipse cx="678.7" cy="412.7" rx="0.9" ry="1.3" transform="rotate(25 678.7 412.7)" fill="#ccc" stroke="none" stroke-width="1" />
<ellipse cx="679.0" cy="450.9" rx="2.3" ry="3.1" transform="rotate(25 679.0 450.9)" fill="#555" stroke="#222" stroke-width="0.9" />
<ellipse cx="678.7" cy="450.9" rx="0.9" ry="1.3" transform="rotate(25 678.7 450.9)" fill="#ccc" stroke="none" stroke-width="1" />
<ellipse cx="625.3" cy="482.7" rx="2.3" ry="3.1" transform="rotate(25 625.3 482.7)" fill="#555" stroke="#222" stroke-width="0.9" />
<ellipse cx="625.0" cy="482.7" rx="0.9" ry="1.3" transform="rotate(25 625.0 482.7)" fill="#ccc" stroke="none" stroke-width="1" />
<path d="M436.4,407.0 Q444,398.5 451,395.4 L459.3,392.0 L527.0,433.6 Q530.6,436.0 528.0,438.4 L506.4,449.6" fill="none" stroke="#000" stroke-width="1.0" stroke-linejoin="round" stroke-linecap="round" />
<path d="M436.4,407.0 L503.7,448.7 L527.6,436.2" fill="none" stroke="#000" stroke-width="1.0" stroke-linejoin="round" stroke-linecap="round" />
<path d="M436.4,407 L436.6,424.5 Q432,434 424,441.5 L417.6,447.6 L416.6,470 L415.2,506.6 L503.4,561.4" fill="none" stroke="#222" stroke-width="0.9" stroke-linejoin="round" stroke-linecap="round" />
<path d="M503.7,448.7 Q502.4,450 502.4,453 L502.4,556 Q502.6,561.2 507,561.6 L512.9,557.6" fill="none" stroke="#000" stroke-width="1.1" stroke-linejoin="round" stroke-linecap="round" />
<path d="M506.4,449.6 L506.2,553.5 Q506.4,557.6 509.6,557.4" fill="none" stroke="#000" stroke-width="0.9" stroke-linejoin="round" stroke-linecap="round" />
<ellipse cx="445.8" cy="480.2" rx="2.2" ry="3.3" transform="rotate(-18 445.8 480.2)" fill="#fff" stroke="#222" stroke-width="1.0" />
<ellipse cx="446.0" cy="480.4" rx="1.0" ry="2.0" transform="rotate(-18 446.0 480.4)" fill="#ccc" stroke="none" stroke-width="1" />
<ellipse cx="464.0" cy="490.5" rx="2.2" ry="3.3" transform="rotate(-18 464.0 490.5)" fill="#fff" stroke="#222" stroke-width="1.0" />
<ellipse cx="464.2" cy="490.7" rx="1.0" ry="2.0" transform="rotate(-18 464.2 490.7)" fill="#ccc" stroke="none" stroke-width="1" />
<ellipse cx="482.0" cy="500.7" rx="2.2" ry="3.3" transform="rotate(-18 482.0 500.7)" fill="#fff" stroke="#222" stroke-width="1.0" />
<ellipse cx="482.2" cy="500.9" rx="1.0" ry="2.0" transform="rotate(-18 482.2 500.9)" fill="#ccc" stroke="none" stroke-width="1" />
<ellipse cx="445.0" cy="511.5" rx="2.2" ry="3.3" transform="rotate(-18 445.0 511.5)" fill="#fff" stroke="#222" stroke-width="1.0" />
<ellipse cx="445.2" cy="511.7" rx="1.0" ry="2.0" transform="rotate(-18 445.2 511.7)" fill="#ccc" stroke="none" stroke-width="1" />
<ellipse cx="464.0" cy="525.0" rx="2.2" ry="3.3" transform="rotate(-18 464.0 525.0)" fill="#fff" stroke="#222" stroke-width="1.0" />
<ellipse cx="464.2" cy="525.2" rx="1.0" ry="2.0" transform="rotate(-18 464.2 525.2)" fill="#ccc" stroke="none" stroke-width="1" />
<ellipse cx="482.0" cy="534.0" rx="2.2" ry="3.3" transform="rotate(-18 482.0 534.0)" fill="#fff" stroke="#222" stroke-width="1.0" />
<ellipse cx="482.2" cy="534.2" rx="1.0" ry="2.0" transform="rotate(-18 482.2 534.2)" fill="#ccc" stroke="none" stroke-width="1" />
<path d="M507.2,468.7 L527.8,481 L513.6,556.5" fill="none" stroke="#000" stroke-width="1.3" stroke-linejoin="round" stroke-linecap="round" />
<path d="M509.6,487.4 L524.2,482.8 L511.6,552.6 L509.4,548" fill="none" stroke="#000" stroke-width="1.1" stroke-linejoin="round" stroke-linecap="round" />
<path d="M509.4,489 L509.4,548" fill="none" stroke="#000" stroke-width="0.9" stroke-linejoin="round" stroke-linecap="round" />
<path d="M507.0,474 L520.5,482.4" fill="none" stroke="#000" stroke-width="0.8" stroke-linejoin="round" stroke-linecap="round" />
<path clip-path="url(#c14)" d="M508.0,480.0 L526.0,469.9 M508.0,485.0 L526.0,474.9 M508.0,490.0 L526.0,479.9 M508.0,495.0 L526.0,484.9 M508.0,500.0 L526.0,489.9 M508.0,505.0 L526.0,494.9 M508.0,510.0 L526.0,499.9 M508.0,515.0 L526.0,504.9 M508.0,520.0 L526.0,509.9 M508.0,525.0 L526.0,514.9 M508.0,530.0 L526.0,519.9 M508.0,535.0 L526.0,524.9 M508.0,540.0 L526.0,529.9 M508.0,545.0 L526.0,534.9 M508.0,550.0 L526.0,539.9 M508.0,555.0 L526.0,544.9 M508.0,560.0 L526.0,549.9" fill="none" stroke="#333" stroke-width="0.5"/>
<g transform="translate(405.5,531.5) rotate(157)">
<path d="M0.8,-5.1 Q-1.6,0 0.8,5.1 L3.57,7.5 L7.9,7.5 L8.5,6.7 L8.5,-6.7 L7.9,-7.5 L3.57,-7.5 Z" fill="#fff" stroke="#000" stroke-width="1.3" stroke-linejoin="round" stroke-linecap="round" />
<line x1="3.6" y1="-2.7" x2="8.5" y2="-2.7" stroke="#000" stroke-width="0.7" />
<line x1="3.6" y1="3.3" x2="8.5" y2="3.3" stroke="#000" stroke-width="0.7" />
<path d="M3.57,-7.5 Q1.7000000000000002,-5.0 3.57,-2.727272727272727 Q1.7000000000000002,0 3.57,3.3333333333333335 Q1.87,5.0 3.57,7.5" fill="none" stroke="#000" stroke-width="0.6" stroke-linejoin="round" stroke-linecap="round" />
<path d="M8.5,-4.2 L37.5,-4.2 Q39.3,0 37.5,4.2 L8.5,4.2 Z" fill="#fff" stroke="#000" stroke-width="1.1" stroke-linejoin="round" stroke-linecap="round" />
<line x1="22.0" y1="-0.3" x2="22.8" y2="-3.9" stroke="#000" stroke-width="0.8" />
<line x1="24.0" y1="-0.3" x2="24.8" y2="-3.9" stroke="#000" stroke-width="0.8" />
<line x1="26.0" y1="-0.3" x2="26.8" y2="-3.9" stroke="#000" stroke-width="0.8" />
<line x1="28.0" y1="-0.3" x2="28.8" y2="-3.9" stroke="#000" stroke-width="0.8" />
<line x1="30.0" y1="-0.3" x2="30.8" y2="-3.9" stroke="#000" stroke-width="0.8" />
<line x1="32.0" y1="-0.3" x2="32.8" y2="-3.9" stroke="#000" stroke-width="0.8" />
<line x1="34.0" y1="-0.3" x2="34.8" y2="-3.9" stroke="#000" stroke-width="0.8" />
<line x1="36.0" y1="-0.3" x2="36.8" y2="-3.9" stroke="#000" stroke-width="0.8" />
<line x1="9.0" y1="-3.2" x2="37.5" y2="-3.2" stroke="#000" stroke-width="1.7" />
</g>
<g transform="translate(445.6,545.4) rotate(90)">
<path d="M0.8,-7.1 Q-1.6,0 0.8,7.1 L6.3,9.5 L14.4,9.5 L15,8.7 L15,-8.7 L14.4,-9.5 L6.3,-9.5 Z" fill="#fff" stroke="#000" stroke-width="1.4" stroke-linejoin="round" stroke-linecap="round" />
<line x1="6.3" y1="-3.5" x2="15.0" y2="-3.5" stroke="#000" stroke-width="0.7" />
<line x1="6.3" y1="4.2" x2="15.0" y2="4.2" stroke="#000" stroke-width="0.7" />
<path d="M6.3,-9.5 Q3.0,-6.333333333333333 6.3,-3.4545454545454546 Q3.0,0 6.3,4.222222222222222 Q3.3,6.333333333333333 6.3,9.5" fill="none" stroke="#000" stroke-width="0.6" stroke-linejoin="round" stroke-linecap="round" />
<path d="M15,-5.5 L45,-5.5 Q46.8,0 45,5.5 L15,5.5 Z" fill="#fff" stroke="#000" stroke-width="1.2" stroke-linejoin="round" stroke-linecap="round" />
<line x1="27.4" y1="-0.3" x2="28.2" y2="-5.2" stroke="#000" stroke-width="0.8" />
<line x1="29.4" y1="-0.3" x2="30.2" y2="-5.2" stroke="#000" stroke-width="0.8" />
<line x1="31.4" y1="-0.3" x2="32.2" y2="-5.2" stroke="#000" stroke-width="0.8" />
<line x1="33.4" y1="-0.3" x2="34.2" y2="-5.2" stroke="#000" stroke-width="0.8" />
<line x1="35.4" y1="-0.3" x2="36.2" y2="-5.2" stroke="#000" stroke-width="0.8" />
<line x1="37.4" y1="-0.3" x2="38.2" y2="-5.2" stroke="#000" stroke-width="0.8" />
<line x1="39.4" y1="-0.3" x2="40.2" y2="-5.2" stroke="#000" stroke-width="0.8" />
<line x1="41.4" y1="-0.3" x2="42.2" y2="-5.2" stroke="#000" stroke-width="0.8" />
<line x1="43.4" y1="-0.3" x2="44.2" y2="-5.2" stroke="#000" stroke-width="0.8" />
<line x1="15.5" y1="-4.5" x2="45.0" y2="-4.5" stroke="#000" stroke-width="1.7" />
</g>
<path d="M364.6,560.1 L359.7,565.6 L352.2,564.3 L349.6,557.5 L354.5,552.0 L362.0,553.3 Z" fill="#fff" stroke="#000" stroke-width="1.1" stroke-linejoin="round" stroke-linecap="round" />
<line x1="367.1" y1="557.9" x2="364.6" y2="560.1" stroke="#000" stroke-width="0.8800000000000001" />
<line x1="362.2" y1="563.4" x2="359.7" y2="565.6" stroke="#000" stroke-width="0.8800000000000001" />
<line x1="354.7" y1="562.1" x2="352.2" y2="564.3" stroke="#000" stroke-width="0.8800000000000001" />
<line x1="352.1" y1="555.3" x2="349.6" y2="557.5" stroke="#000" stroke-width="0.8800000000000001" />
<line x1="357.0" y1="549.8" x2="354.5" y2="552.0" stroke="#000" stroke-width="0.8800000000000001" />
<line x1="364.5" y1="551.1" x2="362.0" y2="553.3" stroke="#000" stroke-width="0.8800000000000001" />
<path d="M367.1,557.9 L362.2,563.4 L354.7,562.1 L352.1,555.3 L357.0,549.8 L364.5,551.1 Z" fill="#fff" stroke="#000" stroke-width="1.1" stroke-linejoin="round" stroke-linecap="round" />
<ellipse cx="359.6" cy="556.6" rx="4.3" ry="4.1" transform="rotate(0 359.6 556.6)" fill="#fff" stroke="#000" stroke-width="0.9900000000000001" />
<ellipse cx="359.9" cy="556.8" rx="2.7" ry="2.6" transform="rotate(0 359.9 556.8)" fill="#ddd" stroke="#000" stroke-width="0.77" />
<path d="M350.3,573.0 L345.5,578.4 L338.2,577.2 L335.7,570.6 L340.5,565.2 L347.8,566.4 Z" fill="#fff" stroke="#000" stroke-width="1.1" stroke-linejoin="round" stroke-linecap="round" />
<line x1="352.8" y1="570.8" x2="350.3" y2="573.0" stroke="#000" stroke-width="0.8800000000000001" />
<line x1="348.0" y1="576.2" x2="345.5" y2="578.4" stroke="#000" stroke-width="0.8800000000000001" />
<line x1="340.7" y1="575.0" x2="338.2" y2="577.2" stroke="#000" stroke-width="0.8800000000000001" />
<line x1="338.2" y1="568.4" x2="335.7" y2="570.6" stroke="#000" stroke-width="0.8800000000000001" />
<line x1="343.0" y1="563.0" x2="340.5" y2="565.2" stroke="#000" stroke-width="0.8800000000000001" />
<line x1="350.3" y1="564.2" x2="347.8" y2="566.4" stroke="#000" stroke-width="0.8800000000000001" />
<path d="M352.8,570.8 L348.0,576.2 L340.7,575.0 L338.2,568.4 L343.0,563.0 L350.3,564.2 Z" fill="#fff" stroke="#000" stroke-width="1.1" stroke-linejoin="round" stroke-linecap="round" />
<ellipse cx="345.5" cy="569.6" rx="4.2" ry="4.0" transform="rotate(0 345.5 569.6)" fill="#fff" stroke="#000" stroke-width="0.9900000000000001" />
<ellipse cx="345.8" cy="569.8" rx="2.7" ry="2.5" transform="rotate(0 345.8 569.8)" fill="#ddd" stroke="#000" stroke-width="0.77" />
<path d="M456.0,610.0 L451.7,614.5 L443.1,614.5 L438.8,610.0 L443.1,605.5 L451.7,605.5 Z" fill="#fff" stroke="#000" stroke-width="1.1" stroke-linejoin="round" stroke-linecap="round" />
<line x1="456.0" y1="606.4" x2="456.0" y2="610.0" stroke="#000" stroke-width="0.8800000000000001" />
<line x1="451.7" y1="610.9" x2="451.7" y2="614.5" stroke="#000" stroke-width="0.8800000000000001" />
<line x1="443.1" y1="610.9" x2="443.1" y2="614.5" stroke="#000" stroke-width="0.8800000000000001" />
<line x1="438.8" y1="606.4" x2="438.8" y2="610.0" stroke="#000" stroke-width="0.8800000000000001" />
<line x1="443.1" y1="601.9" x2="443.1" y2="605.5" stroke="#000" stroke-width="0.8800000000000001" />
<line x1="451.7" y1="601.9" x2="451.7" y2="605.5" stroke="#000" stroke-width="0.8800000000000001" />
<path d="M456.0,606.4 L451.7,610.9 L443.1,610.9 L438.8,606.4 L443.1,601.9 L451.7,601.9 Z" fill="#fff" stroke="#000" stroke-width="1.1" stroke-linejoin="round" stroke-linecap="round" />
<ellipse cx="447.4" cy="606.4" rx="4.8" ry="2.9" transform="rotate(0 447.4 606.4)" fill="#fff" stroke="#000" stroke-width="0.9900000000000001" />
<ellipse cx="447.7" cy="606.6" rx="3.1" ry="1.9" transform="rotate(0 447.7 606.6)" fill="#ddd" stroke="#000" stroke-width="0.77" />
<path d="M456.0,630.2 L451.7,634.7 L443.1,634.7 L438.8,630.2 L443.1,625.7 L451.7,625.7 Z" fill="#fff" stroke="#000" stroke-width="1.1" stroke-linejoin="round" stroke-linecap="round" />
<line x1="456.0" y1="626.6" x2="456.0" y2="630.2" stroke="#000" stroke-width="0.8800000000000001" />
<line x1="451.7" y1="631.1" x2="451.7" y2="634.7" stroke="#000" stroke-width="0.8800000000000001" />
<line x1="443.1" y1="631.1" x2="443.1" y2="634.7" stroke="#000" stroke-width="0.8800000000000001" />
<line x1="438.8" y1="626.6" x2="438.8" y2="630.2" stroke="#000" stroke-width="0.8800000000000001" />
<line x1="443.1" y1="622.1" x2="443.1" y2="625.7" stroke="#000" stroke-width="0.8800000000000001" />
<line x1="451.7" y1="622.1" x2="451.7" y2="625.7" stroke="#000" stroke-width="0.8800000000000001" />
<path d="M456.0,626.6 L451.7,631.1 L443.1,631.1 L438.8,626.6 L443.1,622.1 L451.7,622.1 Z" fill="#fff" stroke="#000" stroke-width="1.1" stroke-linejoin="round" stroke-linecap="round" />
<ellipse cx="447.4" cy="626.6" rx="4.8" ry="2.9" transform="rotate(0 447.4 626.6)" fill="#fff" stroke="#000" stroke-width="0.9900000000000001" />
<ellipse cx="447.7" cy="626.8" rx="3.1" ry="1.9" transform="rotate(0 447.7 626.8)" fill="#ddd" stroke="#000" stroke-width="0.77" />
<ellipse cx="757.0" cy="458.6" rx="5.2" ry="7.2" transform="rotate(18 757.0 458.6)" fill="#fff" stroke="#000" stroke-width="2.0" />
<ellipse cx="756.6" cy="458.8" rx="2.8" ry="4.0" transform="rotate(18 756.6 458.8)" fill="#fff" stroke="#000" stroke-width="1.0" />
<ellipse cx="756.4" cy="459.0" rx="1.2" ry="1.8" transform="rotate(18 756.4 459.0)" fill="#eee" stroke="#000" stroke-width="0.7" />
<path d="M778.4,471.5 L773.0,475.8 L767.0,472.6 L766.4,465.3 L771.8,461.0 L777.8,464.2 Z" fill="#fff" stroke="#000" stroke-width="1.4" stroke-linejoin="round" stroke-linecap="round" />
<line x1="776.6" y1="470.5" x2="778.4" y2="471.5" stroke="#000" stroke-width="1.1199999999999999" />
<line x1="771.2" y1="474.8" x2="773.0" y2="475.8" stroke="#000" stroke-width="1.1199999999999999" />
<line x1="765.2" y1="471.6" x2="767.0" y2="472.6" stroke="#000" stroke-width="1.1199999999999999" />
<line x1="764.6" y1="464.3" x2="766.4" y2="465.3" stroke="#000" stroke-width="1.1199999999999999" />
<line x1="770.0" y1="460.0" x2="771.8" y2="461.0" stroke="#000" stroke-width="1.1199999999999999" />
<line x1="776.0" y1="463.2" x2="777.8" y2="464.2" stroke="#000" stroke-width="1.1199999999999999" />
<path d="M776.6,470.5 L771.2,474.8 L765.2,471.6 L764.6,464.3 L770.0,460.0 L776.0,463.2 Z" fill="#fff" stroke="#000" stroke-width="1.4" stroke-linejoin="round" stroke-linecap="round" />
<ellipse cx="770.6" cy="467.4" rx="3.7" ry="4.2" transform="rotate(0 770.6 467.4)" fill="#fff" stroke="#000" stroke-width="1.26" />
<ellipse cx="770.9" cy="467.6" rx="2.4" ry="2.7" transform="rotate(0 770.9 467.6)" fill="#ddd" stroke="#000" stroke-width="0.9799999999999999" />
<path d="M793.6,479.3 L788.2,483.6 L782.2,480.4 L781.6,473.1 L787.0,468.8 L793.0,472.0 Z" fill="#fff" stroke="#000" stroke-width="1.4" stroke-linejoin="round" stroke-linecap="round" />
<line x1="791.8" y1="478.3" x2="793.6" y2="479.3" stroke="#000" stroke-width="1.1199999999999999" />
<line x1="786.4" y1="482.6" x2="788.2" y2="483.6" stroke="#000" stroke-width="1.1199999999999999" />
<line x1="780.4" y1="479.4" x2="782.2" y2="480.4" stroke="#000" stroke-width="1.1199999999999999" />
<line x1="779.8" y1="472.1" x2="781.6" y2="473.1" stroke="#000" stroke-width="1.1199999999999999" />
<line x1="785.2" y1="467.8" x2="787.0" y2="468.8" stroke="#000" stroke-width="1.1199999999999999" />
<line x1="791.2" y1="471.0" x2="793.0" y2="472.0" stroke="#000" stroke-width="1.1199999999999999" />
<path d="M791.8,478.3 L786.4,482.6 L780.4,479.4 L779.8,472.1 L785.2,467.8 L791.2,471.0 Z" fill="#fff" stroke="#000" stroke-width="1.4" stroke-linejoin="round" stroke-linecap="round" />
<ellipse cx="785.8" cy="475.2" rx="3.7" ry="4.2" transform="rotate(0 785.8 475.2)" fill="#fff" stroke="#000" stroke-width="1.26" />
<ellipse cx="786.1" cy="475.4" rx="2.4" ry="2.7" transform="rotate(0 786.1 475.4)" fill="#ddd" stroke="#000" stroke-width="0.9799999999999999" />
<path d="M895.2,327.6 Q895.2,325.6 897.2,325.6 L903.2,325.6 Q905.3,325.6 905.3,327.6 L905.3,330.2 L903.4,331.4 L897.0,331.4 L895.2,330.2 Z" fill="#222" stroke="#000" stroke-width="1.2" stroke-linejoin="round" stroke-linecap="round" />
<line x1="897.0" y1="327.4" x2="903.0" y2="327.4" stroke="#ddd" stroke-width="0.9" />
<path d="M897.4,331.4 L897.6,347.6 Q900.2,349.8 903.0,347.6 L902.8,331.4 Z" fill="#111" stroke="#111" stroke-width="1.0" stroke-linejoin="round" stroke-linecap="round" />
<line x1="899.0" y1="333.0" x2="899.0" y2="340.0" stroke="#fff" stroke-width="0.8" />
<ellipse cx="899.4" cy="354.0" rx="5.0" ry="3.2" transform="rotate(-5 899.4 354.0)" fill="#222" stroke="#111" stroke-width="2.6" />
<ellipse cx="898.6" cy="353.4" rx="1.8" ry="1.0" transform="rotate(-5 898.6 353.4)" fill="#fff" stroke="none" stroke-width="1" />
<line x1="894.0" y1="354.4" x2="897.6" y2="353.4" stroke="#fff" stroke-width="1.4" />
<path d="M865.4,363.4 Q866.5,358.5 871.5,358.2 L875,359 Q877,354.5 883.5,354.6 Q889,354.8 892,358.6 L900.5,363.4 Q905.2,364.4 906.2,368.6 L908.9,379.6 Q910.2,386 906.6,390.4 L903.2,396.4 Q899.6,398.6 897,395.6 L893.6,389.4 Q888.5,391.8 884.4,388.8 Q881.2,386 881.8,381.4 L876.4,378.6 L873.6,380.4 Q870.4,380.2 869.8,376.6 L866.2,373.8 Q864.4,368.5 865.4,363.4 Z" fill="#151515" stroke="#000" stroke-width="1.0" stroke-linejoin="round" stroke-linecap="round" />
<path d="M877.5,360.2 Q884,357 890,361 L899.4,366 L897.6,369.2 L888.2,364.6 Q883.4,362.4 878.6,364.6 Z" fill="#fff" stroke="none" stroke-width="1" stroke-linejoin="round" stroke-linecap="round" />
<ellipse cx="889.4" cy="379.6" rx="4.2" ry="4.8" transform="rotate(10 889.4 379.6)" fill="#fff" stroke="none" stroke-width="1" />
<ellipse cx="890.2" cy="380.2" rx="2.4" ry="3.0" transform="rotate(10 890.2 380.2)" fill="#151515" stroke="none" stroke-width="1" />
<path d="M868,364 L872.6,362.6 L872.8,368.4 L868.6,369.8 Z" fill="#fff" stroke="none" stroke-width="1" stroke-linejoin="round" stroke-linecap="round" />
<path d="M900.6,383.6 L904.6,381.8 L905.4,387.6 L901.8,390.4 Z" fill="#fff" stroke="none" stroke-width="1" stroke-linejoin="round" stroke-linecap="round" />
<line x1="901.2" y1="386.0" x2="904.8" y2="384.6" stroke="#151515" stroke-width="0.8" />
<line x1="870.0" y1="372.4" x2="874.8" y2="371.2" stroke="#fff" stroke-width="0.8" />
<path d="M847.4,440 Q847.6,431.4 855.4,429.0 Q862,427.6 866.6,432.6 L871.6,431.4 Q876.6,429.4 878.4,423.4 L879.6,417.6 Q882.4,411.8 888,411.8 L897.6,413.6 Q902.6,414.6 905.4,419.4 L921.0,446.6 Q923.6,452.6 922.0,457.0 Q920.6,459.8 917,461.4 L904.6,467.8 Q900.6,469.6 897.2,467.4 L885.6,459.0 Q881,455.0 878.4,450.4 L868.6,449.6 Q862,453.6 855,452.0 Q847.6,449 847.4,440 Z" fill="#fff" stroke="#000" stroke-width="1.6" stroke-linejoin="round" stroke-linecap="round" />
<path clip-path="url(#c15)" d="M930.6,383.7 L941.3,485.6 M928.1,384.0 L938.8,485.8 M925.6,384.2 L936.3,486.1 M923.1,384.5 L933.8,486.4 M920.6,384.8 L931.3,486.6 M918.1,385.0 L928.8,486.9 M915.7,385.3 L926.4,487.1 M913.2,385.6 L923.9,487.4 M910.7,385.8 L921.4,487.7 M908.2,386.1 L918.9,487.9 M905.7,386.3 L916.4,488.2 M903.2,386.6 L913.9,488.4 M900.7,386.9 L911.4,488.7 M898.2,387.1 L909.0,489.0 M895.8,387.4 L906.5,489.2 M893.3,387.6 L904.0,489.5 M890.8,387.9 L901.5,489.8 M888.3,388.2 L899.0,490.0 M885.8,388.4 L896.5,490.3 M883.3,388.7 L894.0,490.5 M880.8,389.0 L891.5,490.8 M878.4,389.2 L889.1,491.1 M875.9,389.5 L886.6,491.3 M873.4,389.7 L884.1,491.6 M870.9,390.0 L881.6,491.8 M868.4,390.3 L879.1,492.1 M865.9,390.5 L876.6,492.4 M863.4,390.8 L874.1,492.6 M861.0,391.0 L871.7,492.9 M858.5,391.3 L869.2,493.1 M856.0,391.6 L866.7,493.4 M853.5,391.8 L864.2,493.7 M851.0,392.1 L861.7,493.9 M848.5,392.3 L859.2,494.2 M846.0,392.6 L856.7,494.5 M843.6,392.9 L854.3,494.7 M841.1,393.1 L851.8,495.0 M838.6,393.4 L849.3,495.2 M836.1,393.7 L846.8,495.5 M833.6,393.9 L844.3,495.8 M831.1,394.2 L841.8,496.0" fill="none" stroke="#111" stroke-width="1.55" />
<g clip-path="url(#c16)">
<path d="M884,416 L889,415 L912.6,452.6 L911.6,458.6 L903,452 L888,428.6 Z" fill="#111"/>
<path d="M890.6,419.6 L897,420.4 L914.6,448.6 L912.4,450.6 Z" fill="#fff"/>
<path d="M900.6,447.4 L920.6,455.6 L903.6,466.4 L899.0,462.6 Z" fill="#111"/>
<path d="M905.6,465.6 L921.0,457.4 L921.4,459.8 L906.0,468.0 Z" fill="#fff"/>
<path d="M872.0,433.0 L878.6,430.0 L884.6,438.6 L885.0,447.0 L879.6,449.0 L872.6,447.6 Z" fill="#fff" opacity="0.55"/>
<rect x="903.6" y="420.4" width="1.7" height="1.5" fill="#fff" transform="rotate(60 903.6 420.4)"/>
<rect x="905.3" y="423.4" width="1.7" height="1.5" fill="#fff" transform="rotate(60 905.3 423.4)"/>
<rect x="907.0" y="426.5" width="1.7" height="1.5" fill="#fff" transform="rotate(60 907.0 426.5)"/>
<rect x="908.8" y="429.5" width="1.7" height="1.5" fill="#fff" transform="rotate(60 908.8 429.5)"/>
<rect x="910.5" y="432.6" width="1.7" height="1.5" fill="#fff" transform="rotate(60 910.5 432.6)"/>
<rect x="912.2" y="435.6" width="1.7" height="1.5" fill="#fff" transform="rotate(60 912.2 435.6)"/>
<rect x="913.9" y="438.7" width="1.7" height="1.5" fill="#fff" transform="rotate(60 913.9 438.7)"/>
<rect x="915.6" y="441.8" width="1.7" height="1.5" fill="#fff" transform="rotate(60 915.6 441.8)"/>
<rect x="917.4" y="444.8" width="1.7" height="1.5" fill="#fff" transform="rotate(60 917.4 444.8)"/>
<rect x="919.1" y="447.8" width="1.7" height="1.5" fill="#fff" transform="rotate(60 919.1 447.8)"/>
<rect x="920.8" y="450.9" width="1.7" height="1.5" fill="#fff" transform="rotate(60 920.8 450.9)"/>
</g>
<ellipse cx="884.6" cy="428.0" rx="2.0" ry="2.4" transform="rotate(0 884.6 428.0)" fill="#111" stroke="none" stroke-width="1" />
<ellipse cx="902.0" cy="433.6" rx="2.6" ry="3.1" transform="rotate(0 902.0 433.6)" fill="#111" stroke="none" stroke-width="1" />
<ellipse cx="889.0" cy="441.6" rx="2.8" ry="3.4" transform="rotate(0 889.0 441.6)" fill="#111" stroke="none" stroke-width="1" />
<ellipse cx="855.4" cy="440.8" rx="5.4" ry="6.0" transform="rotate(0 855.4 440.8)" fill="#fff" stroke="#000" stroke-width="1.2" />
<ellipse cx="855.2" cy="441.2" rx="3.6" ry="4.4" transform="rotate(0 855.2 441.2)" fill="#111" stroke="none" stroke-width="1" />
<ellipse cx="856.2" cy="442.2" rx="1.2" ry="1.4" transform="rotate(0 856.2 442.2)" fill="#bbb" stroke="none" stroke-width="1" />
<g transform="translate(951.4,405.6) rotate(-22.5)">
<path d="M0,-3.6 L26,-3.6 Q29,0 26,3.6 L0,3.6 Q-3,0 0,-3.6 Z" fill="#fff" stroke="#000" stroke-width="1.8" stroke-linejoin="round" stroke-linecap="round" />
<line x1="1.0" y1="2.0" x2="25.0" y2="2.0" stroke="#000" stroke-width="1.6" />
<line x1="3.0" y1="-1.2" x2="10.0" y2="-1.2" stroke="#000" stroke-width="0.8" />
<line x1="16.0" y1="-1.2" x2="23.0" y2="-1.2" stroke="#000" stroke-width="0.8" />
<path d="M12.4,-3.6 Q11.2,0 12.4,3.6 M14.6,-3.6 Q13.4,0 14.6,3.6" fill="none" stroke="#000" stroke-width="1.1" stroke-linejoin="round" stroke-linecap="round" />
<ellipse cx="0.4" cy="0.0" rx="1.3" ry="3.0" transform="rotate(0 0.4 0.0)" fill="#fff" stroke="#000" stroke-width="1.0" />
</g>
<path d="M939.8,415.6 L958.6,445.2" fill="none" stroke="#111" stroke-width="2.8" stroke-linejoin="round" stroke-linecap="round" />
<path d="M941.2,420.5 L956.0,444.6" fill="none" stroke="#111" stroke-width="0.8" stroke-linejoin="round" stroke-linecap="round" />
<path d="M958.8,444.0 L960.2,449.6 L957.4,452.6" fill="none" stroke="#000" stroke-width="1.8" stroke-linejoin="round" stroke-linecap="round" />
<path d="M958.0,450.6 L929.0,514.6" stroke="#111" stroke-width="5.6" fill="none"/>
<path d="M958.0,450.6 L929.0,514.6" stroke="#fff" stroke-width="3.0" stroke-dasharray="4.6 3.2" fill="none"/>
<path d="M958.0,450.6 L929.0,514.6" stroke="#111" stroke-width="3.0" stroke-dasharray="0.8 7.0" stroke-dashoffset="-1.9" fill="none"/>
<ellipse cx="928.4" cy="515.8" rx="2.6" ry="2.0" transform="rotate(25 928.4 515.8)" fill="#fff" stroke="#000" stroke-width="1.3" />
<path d="M901.2,492 Q900.0,485.6 903.6,484.6 Q907.6,484.4 907.2,489.4 L906.0,492.6" fill="none" stroke="#111" stroke-width="1.5" stroke-linejoin="round" stroke-linecap="round" />
<path d="M901.0,490.6 L899.4,511.2 L901.6,510.2 L904.2,496.4 L904.0,508.8 L905.6,507.6 L906.4,491.4 L903.6,489.6 Z" fill="#111" stroke="#111" stroke-width="0.6" stroke-linejoin="round" stroke-linecap="round" />
<path d="M913.5,531.7 L907.9,537.3 L900.1,535.3 L898.1,527.5 L903.7,521.9 L911.5,523.9 Z" fill="#fff" stroke="#000" stroke-width="1.5" stroke-linejoin="round" stroke-linecap="round" />
<line x1="910.9" y1="529.5" x2="913.5" y2="531.7" stroke="#000" stroke-width="1.2000000000000002" />
<line x1="905.3" y1="535.1" x2="907.9" y2="537.3" stroke="#000" stroke-width="1.2000000000000002" />
<line x1="897.5" y1="533.1" x2="900.1" y2="535.3" stroke="#000" stroke-width="1.2000000000000002" />
<line x1="895.5" y1="525.3" x2="898.1" y2="527.5" stroke="#000" stroke-width="1.2000000000000002" />
<line x1="901.1" y1="519.7" x2="903.7" y2="521.9" stroke="#000" stroke-width="1.2000000000000002" />
<line x1="908.9" y1="521.7" x2="911.5" y2="523.9" stroke="#000" stroke-width="1.2000000000000002" />
<path d="M910.9,529.5 L905.3,535.1 L897.5,533.1 L895.5,525.3 L901.1,519.7 L908.9,521.7 Z" fill="#fff" stroke="#000" stroke-width="1.5" stroke-linejoin="round" stroke-linecap="round" />
<ellipse cx="903.2" cy="527.4" rx="5.0" ry="5.0" transform="rotate(0 903.2 527.4)" fill="#fff" stroke="#000" stroke-width="1.35" />
<ellipse cx="903.5" cy="527.6" rx="3.2" ry="3.2" transform="rotate(0 903.5 527.6)" fill="#ddd" stroke="#000" stroke-width="1.0499999999999998" />
<ellipse cx="903.0" cy="527.4" rx="4.4" ry="5.0" transform="rotate(15 903.0 527.4)" fill="#fff" stroke="#000" stroke-width="1.8" />
<ellipse cx="903.6" cy="528.0" rx="2.2" ry="2.8" transform="rotate(15 903.6 528.0)" fill="#ccc" stroke="none" stroke-width="1" />
<g transform="translate(763.2,510.0) rotate(28.0)">
<path d="M0,-6.6 L20,-6.6 L20,6.6 L0,6.6 Q-2.6,0 0,-6.6 Z" fill="#111" stroke="#000" stroke-width="1.0" stroke-linejoin="round" stroke-linecap="round" />
<line x1="5.0" y1="-5.4" x2="4.4" y2="-1.2" stroke="#eee" stroke-width="0.8" />
<line x1="7.2" y1="-5.4" x2="6.6" y2="-1.2" stroke="#eee" stroke-width="0.8" />
<line x1="9.4" y1="-5.4" x2="8.8" y2="-1.2" stroke="#eee" stroke-width="0.8" />
<line x1="11.6" y1="-5.4" x2="11.0" y2="-1.2" stroke="#eee" stroke-width="0.8" />
<line x1="13.8" y1="-5.4" x2="13.2" y2="-1.2" stroke="#eee" stroke-width="0.8" />
<line x1="16.0" y1="-5.4" x2="15.4" y2="-1.2" stroke="#eee" stroke-width="0.8" />
<line x1="18.2" y1="-5.4" x2="17.6" y2="-1.2" stroke="#eee" stroke-width="0.8" />
<path d="M20,-5.8 L25,-5.8 L25,5.8 L20,5.8 Z" fill="#fff" stroke="#000" stroke-width="1.0" stroke-linejoin="round" stroke-linecap="round" />
<path d="M25,-8.8 L66,-8.8 L66,8.8 L25,8.8 Q22.8,0 25,-8.8 Z" fill="#fff" stroke="#000" stroke-width="1.3" stroke-linejoin="round" stroke-linecap="round" />
<path clip-path="url(#c17)" d="M22.0,-8.3 L67.0,-8.3 M22.0,-6.1 L67.0,-6.1 M22.0,-3.9 L67.0,-3.9 M22.0,-1.7 L67.0,-1.7 M22.0,0.5 L67.0,0.5 M22.0,2.7 L67.0,2.7 M22.0,4.9 L67.0,4.9 M22.0,7.1 L67.0,7.1 M22.0,9.3 L67.0,9.3" fill="none" stroke="#111" stroke-width="1.45"/>
<path d="M27,-3.0 L52,-3.0 L52,-1.4 L27,-1.4 Z" fill="#fff" opacity="0.9"/>
<path d="M66,-10.6 Q63.6,0 66,10.6 L90,10.6 L90,-10.6 Z" fill="#fff" stroke="#000" stroke-width="1.3" stroke-linejoin="round" stroke-linecap="round" />
<path clip-path="url(#c18)" d="M62.0,-10.5 L91.0,-10.5 M62.0,-8.2 L91.0,-8.2 M62.0,-5.9 L91.0,-5.9 M62.0,-3.6 L91.0,-3.6 M62.0,-1.3 L91.0,-1.3 M62.0,1.0 L91.0,1.0 M62.0,3.3 L91.0,3.3 M62.0,5.6 L91.0,5.6 M62.0,7.9 L91.0,7.9 M62.0,10.2 L91.0,10.2" fill="none" stroke="#111" stroke-width="1.45"/>
</g>
<path d="M843.4,545.6 Q850,538.6 858,540.6 L862.4,528.6 Q866.4,519.6 874,519.4 L882.6,521 Q886.4,522.6 886.6,527.6 L887.0,531.4 L892.0,543.6 L893.0,566.4 L899.6,563.0 Q904.6,560 909.0,562.4 L916.6,567.0 Q919.2,570.0 918.6,575.6 L917.2,591.6 Q914.6,603.0 904.6,608.6 Q893,612.8 881.6,609.0 Q867.6,603.6 859.6,591.6 Q851.6,579.6 844.6,572.4 L841.6,566.6 Q839.6,553 843.4,545.6 Z" fill="#fff" stroke="#000" stroke-width="1.5" stroke-linejoin="round" stroke-linecap="round" />
<path clip-path="url(#c19)" d="M941.7,494.8 L948.7,627.2 M939.2,495.0 L946.1,627.3 M936.6,495.1 L943.6,627.5 M934.1,495.2 L941.0,627.6 M931.5,495.4 L938.5,627.7 M929.0,495.5 L935.9,627.9 M926.4,495.6 L933.4,628.0 M923.9,495.8 L930.8,628.1 M921.3,495.9 L928.3,628.3 M918.8,496.0 L925.7,628.4 M916.3,496.2 L923.2,628.5 M913.7,496.3 L920.6,628.7 M911.2,496.4 L918.1,628.8 M908.6,496.6 L915.5,629.0 M906.1,496.7 L913.0,629.1 M903.5,496.8 L910.5,629.2 M901.0,497.0 L907.9,629.4 M898.4,497.1 L905.4,629.5 M895.9,497.2 L902.8,629.6 M893.3,497.4 L900.3,629.8 M890.8,497.5 L897.7,629.9 M888.2,497.7 L895.2,630.0 M885.7,497.8 L892.6,630.2 M883.1,497.9 L890.1,630.3 M880.6,498.1 L887.5,630.4 M878.1,498.2 L885.0,630.6 M875.5,498.3 L882.4,630.7 M873.0,498.5 L879.9,630.8 M870.4,498.6 L877.4,631.0 M867.9,498.7 L874.8,631.1 M865.3,498.9 L872.3,631.2 M862.8,499.0 L869.7,631.4 M860.2,499.1 L867.2,631.5 M857.7,499.3 L864.6,631.6 M855.1,499.4 L862.1,631.8 M852.6,499.5 L859.5,631.9 M850.0,499.7 L857.0,632.0 M847.5,499.8 L854.4,632.2 M844.9,499.9 L851.9,632.3 M842.4,500.1 L849.3,632.4 M839.9,500.2 L846.8,632.6 M837.3,500.3 L844.2,632.7 M834.8,500.5 L841.7,632.8 M832.2,500.6 L839.2,633.0 M829.7,500.7 L836.6,633.1 M827.1,500.9 L834.1,633.2 M824.6,501.0 L831.5,633.4 M822.0,501.1 L829.0,633.5 M819.5,501.3 L826.4,633.6 M816.9,501.4 L823.9,633.8 M814.4,501.5 L821.3,633.9 M811.8,501.7 L818.8,634.0" fill="none" stroke="#111" stroke-width="1.35" />
<g clip-path="url(#c20)">
<path d="M875.0,531.0 L892.0,543.4 L893.0,569.0 L880.0,579.6 L875.4,566 Z" fill="#fff"/>
<path clip-path="url(#c21)" d="M873,527.0 L894,529.6 M873,529.2 L894,531.9 M873,531.5 L894,534.1 M873,533.8 L894,536.4 M873,536.0 L894,538.6 M873,538.2 L894,540.9 M873,540.5 L894,543.1 M873,542.8 L894,545.4 M873,545.0 L894,547.6 M873,547.2 L894,549.9 M873,549.5 L894,552.1 M873,551.8 L894,554.4 M873,554.0 L894,556.6 M873,556.2 L894,558.9 M873,558.5 L894,561.1 M873,560.8 L894,563.4 M873,563.0 L894,565.6 M873,565.2 L894,567.9 M873,567.5 L894,570.1 M873,569.8 L894,572.4 M873,572.0 L894,574.6 M873,574.2 L894,576.9 M873,576.5 L894,579.1 M873,578.8 L894,581.4 M873,581.0 L894,583.6 M873,583.2 L894,585.9" stroke="#111" stroke-width="1.15" fill="none"/>
<path d="M875.0,531.0 L875.4,566" stroke="#111" stroke-width="1.2" fill="none"/>
<path d="M878.6,566.4 L888.6,560.6 L890.0,573.0 Q884,580 879.6,579.6 Z" fill="#111"/>
<path d="M892.6,568.2 L906.5,561.0 L918.5,568.2 L903.6,578.0 Z" fill="#fff" stroke="#111" stroke-width="1.0"/>
<path clip-path="url(#c22)" d="M890.0,575.0 L904.0,559.0 M892.4,575.3 L906.4,559.3 M894.8,575.6 L908.8,559.6 M897.2,575.9 L911.2,559.9 M899.6,576.2 L913.6,560.2 M902.0,576.5 L916.0,560.5 M904.4,576.8 L918.4,560.8 M906.8,577.1 L920.8,561.1 M909.2,577.4 L923.2,561.4 M911.6,577.7 L925.6,561.7 M914.0,578.0 L928.0,562.0 M916.4,578.3 L930.4,562.3" stroke="#222" stroke-width="0.8" fill="none"/>
<path d="M893.2,571.0 Q889.6,590 898.6,600.6 Q906.6,604.6 911.0,596.0 Q903.6,598.6 899.6,590.6 Q896.2,582.6 897.6,574.6 Z" fill="#fff" stroke="#111" stroke-width="0.9"/>
<path d="M841.6,566.6 L844.6,572.4 Q851.6,579.6 859.6,591.6 Q867.6,603.6 881.6,609.0 L886,604.4 Q872,598.6 864.6,587.6 Q856.6,575.6 849.6,568.6 L846.6,562.6 Z" fill="#111"/>
<path d="M843,558.6 Q857,560.6 866,577.6 Q875,596.6 893,602.0" stroke="#111" stroke-width="2.4" fill="none"/>
</g>
<path d="M872.6,522.4 Q874,519.8 877.4,520.2 L883.4,522.2 L883.0,527.4 L873.6,526 Z" fill="#fff" stroke="#000" stroke-width="0.9" stroke-linejoin="round" stroke-linecap="round" />
<path d="M874.6,525.4 L876.6,521.4 M876.5,525.6 L878.3,521.8 M878.4,525.8 L880.0,522.2 M880.3,526.0 L881.7,522.6 M882.2,526.2 L883.4,523.0" stroke="#222" stroke-width="0.7" fill="none"/>
<ellipse cx="866.6" cy="546.0" rx="5.6" ry="6.4" transform="rotate(-15 866.6 546.0)" fill="#111" stroke="#000" stroke-width="1.0" />
<ellipse cx="863.4" cy="547.4" rx="6.2" ry="7.4" transform="rotate(-15 863.4 547.4)" fill="#fff" stroke="#000" stroke-width="1.6" />
<ellipse cx="863.4" cy="547.6" rx="4.0" ry="5.2" transform="rotate(-15 863.4 547.6)" fill="#111" stroke="none" stroke-width="1" />
<ellipse cx="910.6" cy="583.4" rx="2.2" ry="3.2" transform="rotate(20 910.6 583.4)" fill="#111" stroke="#000" stroke-width="0.8" />
<g transform="translate(772.4,599.4) rotate(-29.8)">
<path d="M-7.6,0 L-4.2,-7.0 L3.4,-7.0 L6.8,-0.6 L3.6,6.8 L-4.0,7.0 Z" fill="#fff" stroke="#000" stroke-width="1.7" stroke-linejoin="round" stroke-linecap="round" />
<path d="M3.4,-7.0 L6.8,-6.0 L10.0,-0.2 L7.2,6.0 L3.6,6.8" fill="#fff" stroke="#000" stroke-width="1.3" stroke-linejoin="round" stroke-linecap="round" />
<path d="M9.6,-3.4 L50,-3.4 L50.6,3.4 L9.6,3.4 Z" fill="#fff" stroke="#000" stroke-width="1.4" stroke-linejoin="round" stroke-linecap="round" />
<line x1="10.0" y1="-0.8" x2="33.0" y2="-0.8" stroke="#000" stroke-width="0.7" />
<line x1="10.0" y1="1.8" x2="50.0" y2="1.8" stroke="#000" stroke-width="2.2" />
<line x1="35.0" y1="-3.0" x2="36.0" y2="0.6" stroke="#000" stroke-width="0.8" />
<line x1="37.2" y1="-3.0" x2="38.2" y2="0.6" stroke="#000" stroke-width="0.8" />
<line x1="39.4" y1="-3.0" x2="40.4" y2="0.6" stroke="#000" stroke-width="0.8" />
<line x1="41.6" y1="-3.0" x2="42.6" y2="0.6" stroke="#000" stroke-width="0.8" />
<line x1="43.8" y1="-3.0" x2="44.8" y2="0.6" stroke="#000" stroke-width="0.8" />
<line x1="46.0" y1="-3.0" x2="47.0" y2="0.6" stroke="#000" stroke-width="0.8" />
<line x1="48.2" y1="-3.0" x2="49.2" y2="0.6" stroke="#000" stroke-width="0.8" />
</g>
<path d="M0.1,0.2 L0.62,0 L0.62,1" transform="matrix(5.6,0,-3.7,16.2,60.70,40.40)" fill="none" stroke="#111" stroke-width="1.25" vector-effect="non-scaling-stroke" stroke-linejoin="round"/>
<text x="57.0" y="56.6" class="sem">1</text>
<path d="M0.03,0.27 C0.05,0.08 0.25,0 0.5,0 C0.8,0 0.97,0.1 0.97,0.27 C0.97,0.45 0.78,0.56 0.5,0.7 C0.22,0.83 0.05,0.9 0,1 L1,1" transform="matrix(5.6,0,-3.7,16.2,100.70,40.40)" fill="none" stroke="#111" stroke-width="1.25" vector-effect="non-scaling-stroke" stroke-linejoin="round"/>
<text x="97.0" y="56.6" class="sem">2</text>
<path d="M0.05,0.22 C0.1,0.06 0.28,0 0.5,0 C0.8,0 0.95,0.09 0.95,0.24 C0.95,0.39 0.75,0.47 0.42,0.47 C0.8,0.47 1,0.57 1,0.73 C1,0.9 0.8,1 0.5,1 C0.22,1 0.04,0.93 0,0.76" transform="matrix(5.6,0,-3.7,16.2,183.50,38.90)" fill="none" stroke="#111" stroke-width="1.25" vector-effect="non-scaling-stroke" stroke-linejoin="round"/>
<text x="179.8" y="55.1" class="sem">3</text>
<path d="M0.76,1 L0.76,0 L0,0.72 L1,0.72" transform="matrix(5.6,0,-3.7,16.2,214.20,61.50)" fill="none" stroke="#111" stroke-width="1.25" vector-effect="non-scaling-stroke" stroke-linejoin="round"/>
<text x="210.5" y="77.7" class="sem">4</text>
<path d="M0.93,0 L0.2,0 L0.07,0.47 C0.2,0.4 0.34,0.36 0.5,0.36 C0.8,0.36 1,0.48 1,0.68 C1,0.88 0.8,1 0.5,1 C0.24,1 0.05,0.93 0,0.78" transform="matrix(5.6,0,-3.7,16.2,249.10,80.80)" fill="none" stroke="#111" stroke-width="1.25" vector-effect="non-scaling-stroke" stroke-linejoin="round"/>
<text x="245.4" y="97.0" class="sem">5</text>
<path d="M0.95,0.2 C0.9,0.07 0.75,0 0.55,0 C0.2,0 0,0.2 0,0.56 C0,0.85 0.2,1 0.5,1 C0.8,1 1,0.87 1,0.68 C1,0.5 0.8,0.38 0.5,0.38 C0.25,0.38 0.06,0.48 0,0.64" transform="matrix(5.6,0,-3.7,16.2,287.50,103.40)" fill="none" stroke="#111" stroke-width="1.25" vector-effect="non-scaling-stroke" stroke-linejoin="round"/>
<text x="283.8" y="119.6" class="sem">6</text>
<path d="M0,0 L1,0 L0.3,1" transform="matrix(5.6,0,-3.7,16.2,329.40,127.80)" fill="none" stroke="#111" stroke-width="1.25" vector-effect="non-scaling-stroke" stroke-linejoin="round"/>
<text x="325.7" y="144.0" class="sem">7</text>
<path d="M0.5,0.46 C0.2,0.46 0.06,0.36 0.06,0.23 C0.06,0.1 0.2,0 0.5,0 C0.8,0 0.94,0.1 0.94,0.23 C0.94,0.36 0.8,0.46 0.5,0.46 C0.15,0.46 0,0.58 0,0.73 C0,0.9 0.2,1 0.5,1 C0.8,1 1,0.9 1,0.73 C1,0.58 0.85,0.46 0.5,0.46 Z" transform="matrix(5.6,0,-3.7,16.2,368.30,146.50)" fill="none" stroke="#111" stroke-width="1.25" vector-effect="non-scaling-stroke" stroke-linejoin="round"/>
<text x="364.6" y="162.7" class="sem">8</text>
<path d="M0,0 L1,0 L0.3,1" transform="matrix(5.6,0,-3.7,16.2,421.10,184.00)" fill="none" stroke="#111" stroke-width="1.25" vector-effect="non-scaling-stroke" stroke-linejoin="round"/>
<text x="417.4" y="200.2" class="sem">7</text>
<path d="M0.05,0.8 C0.1,0.93 0.25,1 0.45,1 C0.8,1 1,0.8 1,0.44 C1,0.15 0.8,0 0.5,0 C0.2,0 0,0.13 0,0.32 C0,0.5 0.2,0.62 0.5,0.62 C0.75,0.62 0.94,0.52 1,0.36" transform="matrix(5.6,0,-3.7,16.2,467.40,212.80)" fill="none" stroke="#111" stroke-width="1.25" vector-effect="non-scaling-stroke" stroke-linejoin="round"/>
<text x="463.7" y="229.0" class="sem">9</text>
<path d="M0.1,0.2 L0.62,0 L0.62,1" transform="matrix(5.6,0,-3.7,16.2,1007.50,246.40)" fill="none" stroke="#111" stroke-width="1.25" vector-effect="non-scaling-stroke" stroke-linejoin="round"/>
<path d="M0.5,0 C0.85,0 1,0.22 1,0.5 C1,0.78 0.85,1 0.5,1 C0.15,1 0,0.78 0,0.5 C0,0.22 0.15,0 0.5,0 Z" transform="matrix(5.6,0,-3.7,16.2,1012.70,246.40)" fill="none" stroke="#111" stroke-width="1.25" vector-effect="non-scaling-stroke" stroke-linejoin="round"/>
<text x="1003.8" y="262.6" class="sem">10</text>
<path d="M0.1,0.2 L0.62,0 L0.62,1" transform="matrix(5.6,0,-3.7,16.2,1008.90,275.20)" fill="none" stroke="#111" stroke-width="1.25" vector-effect="non-scaling-stroke" stroke-linejoin="round"/>
<path d="M0.1,0.2 L0.62,0 L0.62,1" transform="matrix(5.6,0,-3.7,16.2,1014.10,275.20)" fill="none" stroke="#111" stroke-width="1.25" vector-effect="non-scaling-stroke" stroke-linejoin="round"/>
<text x="1005.2" y="291.4" class="sem">11</text>
<path d="M0.1,0.2 L0.62,0 L0.62,1" transform="matrix(5.6,0,-3.7,16.2,1007.50,303.00)" fill="none" stroke="#111" stroke-width="1.25" vector-effect="non-scaling-stroke" stroke-linejoin="round"/>
<path d="M0.03,0.27 C0.05,0.08 0.25,0 0.5,0 C0.8,0 0.97,0.1 0.97,0.27 C0.97,0.45 0.78,0.56 0.5,0.7 C0.22,0.83 0.05,0.9 0,1 L1,1" transform="matrix(5.6,0,-3.7,16.2,1012.70,303.00)" fill="none" stroke="#111" stroke-width="1.25" vector-effect="non-scaling-stroke" stroke-linejoin="round"/>
<text x="1003.8" y="319.2" class="sem">12</text>
<path d="M0.1,0.2 L0.62,0 L0.62,1" transform="matrix(5.6,0,-3.7,16.2,1007.50,331.80)" fill="none" stroke="#111" stroke-width="1.25" vector-effect="non-scaling-stroke" stroke-linejoin="round"/>
<path d="M0.05,0.22 C0.1,0.06 0.28,0 0.5,0 C0.8,0 0.95,0.09 0.95,0.24 C0.95,0.39 0.75,0.47 0.42,0.47 C0.8,0.47 1,0.57 1,0.73 C1,0.9 0.8,1 0.5,1 C0.22,1 0.04,0.93 0,0.76" transform="matrix(5.6,0,-3.7,16.2,1012.70,331.80)" fill="none" stroke="#111" stroke-width="1.25" vector-effect="non-scaling-stroke" stroke-linejoin="round"/>
<text x="1003.8" y="348.0" class="sem">13</text>
<path d="M0.1,0.2 L0.62,0 L0.62,1" transform="matrix(5.6,0,-3.7,16.2,1008.30,380.40)" fill="none" stroke="#111" stroke-width="1.25" vector-effect="non-scaling-stroke" stroke-linejoin="round"/>
<path d="M0.76,1 L0.76,0 L0,0.72 L1,0.72" transform="matrix(5.6,0,-3.7,16.2,1013.50,380.40)" fill="none" stroke="#111" stroke-width="1.25" vector-effect="non-scaling-stroke" stroke-linejoin="round"/>
<text x="1004.6" y="396.6" class="sem">14</text>
<path d="M0.1,0.2 L0.62,0 L0.62,1" transform="matrix(5.6,0,-3.7,16.2,1008.30,417.50)" fill="none" stroke="#111" stroke-width="1.25" vector-effect="non-scaling-stroke" stroke-linejoin="round"/>
<path d="M0.93,0 L0.2,0 L0.07,0.47 C0.2,0.4 0.34,0.36 0.5,0.36 C0.8,0.36 1,0.48 1,0.68 C1,0.88 0.8,1 0.5,1 C0.24,1 0.05,0.93 0,0.78" transform="matrix(5.6,0,-3.7,16.2,1013.50,417.50)" fill="none" stroke="#111" stroke-width="1.25" vector-effect="non-scaling-stroke" stroke-linejoin="round"/>
<text x="1004.6" y="433.7" class="sem">15</text>
<path d="M0.1,0.2 L0.62,0 L0.62,1" transform="matrix(5.6,0,-3.7,16.2,1008.90,598.70)" fill="none" stroke="#111" stroke-width="1.25" vector-effect="non-scaling-stroke" stroke-linejoin="round"/>
<path d="M0.95,0.2 C0.9,0.07 0.75,0 0.55,0 C0.2,0 0,0.2 0,0.56 C0,0.85 0.2,1 0.5,1 C0.8,1 1,0.87 1,0.68 C1,0.5 0.8,0.38 0.5,0.38 C0.25,0.38 0.06,0.48 0,0.64" transform="matrix(5.6,0,-3.7,16.2,1014.10,598.70)" fill="none" stroke="#111" stroke-width="1.25" vector-effect="non-scaling-stroke" stroke-linejoin="round"/>
<text x="1005.2" y="614.9" class="sem">16</text>
<path d="M0.1,0.2 L0.62,0 L0.62,1" transform="matrix(5.6,0,-3.7,16.2,1008.90,631.80)" fill="none" stroke="#111" stroke-width="1.25" vector-effect="non-scaling-stroke" stroke-linejoin="round"/>
<path d="M0,0 L1,0 L0.3,1" transform="matrix(5.6,0,-3.7,16.2,1014.10,631.80)" fill="none" stroke="#111" stroke-width="1.25" vector-effect="non-scaling-stroke" stroke-linejoin="round"/>
<text x="1005.2" y="648.0" class="sem">17</text>
<path d="M0.1,0.2 L0.62,0 L0.62,1" transform="matrix(5.6,0,-3.7,16.2,1008.90,665.40)" fill="none" stroke="#111" stroke-width="1.25" vector-effect="non-scaling-stroke" stroke-linejoin="round"/>
<path d="M0.5,0.46 C0.2,0.46 0.06,0.36 0.06,0.23 C0.06,0.1 0.2,0 0.5,0 C0.8,0 0.94,0.1 0.94,0.23 C0.94,0.36 0.8,0.46 0.5,0.46 C0.15,0.46 0,0.58 0,0.73 C0,0.9 0.2,1 0.5,1 C0.8,1 1,0.9 1,0.73 C1,0.58 0.85,0.46 0.5,0.46 Z" transform="matrix(5.6,0,-3.7,16.2,1014.10,665.40)" fill="none" stroke="#111" stroke-width="1.25" vector-effect="non-scaling-stroke" stroke-linejoin="round"/>
<text x="1005.2" y="681.6" class="sem">18</text>
<path d="M0.1,0.2 L0.62,0 L0.62,1" transform="matrix(5.6,0,-3.7,16.2,1007.90,705.70)" fill="none" stroke="#111" stroke-width="1.25" vector-effect="non-scaling-stroke" stroke-linejoin="round"/>
<path d="M0.05,0.8 C0.1,0.93 0.25,1 0.45,1 C0.8,1 1,0.8 1,0.44 C1,0.15 0.8,0 0.5,0 C0.2,0 0,0.13 0,0.32 C0,0.5 0.2,0.62 0.5,0.62 C0.75,0.62 0.94,0.52 1,0.36" transform="matrix(5.6,0,-3.7,16.2,1013.10,705.70)" fill="none" stroke="#111" stroke-width="1.25" vector-effect="non-scaling-stroke" stroke-linejoin="round"/>
<text x="1004.2" y="721.9" class="sem">19</text>
<path d="M0.03,0.27 C0.05,0.08 0.25,0 0.5,0 C0.8,0 0.97,0.1 0.97,0.27 C0.97,0.45 0.78,0.56 0.5,0.7 C0.22,0.83 0.05,0.9 0,1 L1,1" transform="matrix(5.6,0,-3.7,16.2,1048.70,476.30)" fill="none" stroke="#111" stroke-width="1.25" vector-effect="non-scaling-stroke" stroke-linejoin="round"/>
<path d="M0.5,0 C0.85,0 1,0.22 1,0.5 C1,0.78 0.85,1 0.5,1 C0.15,1 0,0.78 0,0.5 C0,0.22 0.15,0 0.5,0 Z" transform="matrix(5.6,0,-3.7,16.2,1056.20,476.30)" fill="none" stroke="#111" stroke-width="1.25" vector-effect="non-scaling-stroke" stroke-linejoin="round"/>
<text x="1045.0" y="492.5" class="sem">20</text>
<path d="M0.03,0.27 C0.05,0.08 0.25,0 0.5,0 C0.8,0 0.97,0.1 0.97,0.27 C0.97,0.45 0.78,0.56 0.5,0.7 C0.22,0.83 0.05,0.9 0,1 L1,1" transform="matrix(5.6,0,-3.7,16.2,746.10,487.40)" fill="none" stroke="#111" stroke-width="1.25" vector-effect="non-scaling-stroke" stroke-linejoin="round"/>
<path d="M0.1,0.2 L0.62,0 L0.62,1" transform="matrix(5.6,0,-3.7,16.2,753.60,487.40)" fill="none" stroke="#111" stroke-width="1.25" vector-effect="non-scaling-stroke" stroke-linejoin="round"/>
<text x="742.4" y="503.6" class="sem">21</text>
<path d="M0.03,0.27 C0.05,0.08 0.25,0 0.5,0 C0.8,0 0.97,0.1 0.97,0.27 C0.97,0.45 0.78,0.56 0.5,0.7 C0.22,0.83 0.05,0.9 0,1 L1,1" transform="matrix(5.6,0,-3.7,16.2,722.80,487.40)" fill="none" stroke="#111" stroke-width="1.25" vector-effect="non-scaling-stroke" stroke-linejoin="round"/>
<path d="M0.03,0.27 C0.05,0.08 0.25,0 0.5,0 C0.8,0 0.97,0.1 0.97,0.27 C0.97,0.45 0.78,0.56 0.5,0.7 C0.22,0.83 0.05,0.9 0,1 L1,1" transform="matrix(5.6,0,-3.7,16.2,730.30,487.40)" fill="none" stroke="#111" stroke-width="1.25" vector-effect="non-scaling-stroke" stroke-linejoin="round"/>
<text x="719.1" y="503.6" class="sem">22</text>
<path d="M0.03,0.27 C0.05,0.08 0.25,0 0.5,0 C0.8,0 0.97,0.1 0.97,0.27 C0.97,0.45 0.78,0.56 0.5,0.7 C0.22,0.83 0.05,0.9 0,1 L1,1" transform="matrix(5.6,0,-3.7,16.2,599.40,549.30)" fill="none" stroke="#111" stroke-width="1.25" vector-effect="non-scaling-stroke" stroke-linejoin="round"/>
<path d="M0.05,0.22 C0.1,0.06 0.28,0 0.5,0 C0.8,0 0.95,0.09 0.95,0.24 C0.95,0.39 0.75,0.47 0.42,0.47 C0.8,0.47 1,0.57 1,0.73 C1,0.9 0.8,1 0.5,1 C0.22,1 0.04,0.93 0,0.76" transform="matrix(5.6,0,-3.7,16.2,606.90,549.30)" fill="none" stroke="#111" stroke-width="1.25" vector-effect="non-scaling-stroke" stroke-linejoin="round"/>
<text x="595.7" y="565.5" class="sem">23</text>
<path d="M0.03,0.27 C0.05,0.08 0.25,0 0.5,0 C0.8,0 0.97,0.1 0.97,0.27 C0.97,0.45 0.78,0.56 0.5,0.7 C0.22,0.83 0.05,0.9 0,1 L1,1" transform="matrix(5.6,0,-3.7,16.2,503.50,579.60)" fill="none" stroke="#111" stroke-width="1.25" vector-effect="non-scaling-stroke" stroke-linejoin="round"/>
<path d="M0.76,1 L0.76,0 L0,0.72 L1,0.72" transform="matrix(5.6,0,-3.7,16.2,511.00,579.60)" fill="none" stroke="#111" stroke-width="1.25" vector-effect="non-scaling-stroke" stroke-linejoin="round"/>
<text x="499.8" y="595.8" class="sem">24</text>
<path d="M0.03,0.27 C0.05,0.08 0.25,0 0.5,0 C0.8,0 0.97,0.1 0.97,0.27 C0.97,0.45 0.78,0.56 0.5,0.7 C0.22,0.83 0.05,0.9 0,1 L1,1" transform="matrix(5.6,0,-3.7,16.2,360.50,620.70)" fill="none" stroke="#111" stroke-width="1.25" vector-effect="non-scaling-stroke" stroke-linejoin="round"/>
<path d="M0.93,0 L0.2,0 L0.07,0.47 C0.2,0.4 0.34,0.36 0.5,0.36 C0.8,0.36 1,0.48 1,0.68 C1,0.88 0.8,1 0.5,1 C0.24,1 0.05,0.93 0,0.78" transform="matrix(5.6,0,-3.7,16.2,368.00,620.70)" fill="none" stroke="#111" stroke-width="1.25" vector-effect="non-scaling-stroke" stroke-linejoin="round"/>
<text x="356.8" y="636.9" class="sem">25</text>
<path d="M0.03,0.27 C0.05,0.08 0.25,0 0.5,0 C0.8,0 0.97,0.1 0.97,0.27 C0.97,0.45 0.78,0.56 0.5,0.7 C0.22,0.83 0.05,0.9 0,1 L1,1" transform="matrix(5.6,0,-3.7,16.2,389.40,467.20)" fill="none" stroke="#111" stroke-width="1.25" vector-effect="non-scaling-stroke" stroke-linejoin="round"/>
<path d="M0.95,0.2 C0.9,0.07 0.75,0 0.55,0 C0.2,0 0,0.2 0,0.56 C0,0.85 0.2,1 0.5,1 C0.8,1 1,0.87 1,0.68 C1,0.5 0.8,0.38 0.5,0.38 C0.25,0.38 0.06,0.48 0,0.64" transform="matrix(5.6,0,-3.7,16.2,396.90,467.20)" fill="none" stroke="#111" stroke-width="1.25" vector-effect="non-scaling-stroke" stroke-linejoin="round"/>
<text x="385.7" y="483.4" class="sem">26</text>
<path d="M0.03,0.27 C0.05,0.08 0.25,0 0.5,0 C0.8,0 0.97,0.1 0.97,0.27 C0.97,0.45 0.78,0.56 0.5,0.7 C0.22,0.83 0.05,0.9 0,1 L1,1" transform="matrix(5.6,0,-3.7,16.2,261.90,350.80)" fill="none" stroke="#111" stroke-width="1.25" vector-effect="non-scaling-stroke" stroke-linejoin="round"/>
<path d="M0,0 L1,0 L0.3,1" transform="matrix(5.6,0,-3.7,16.2,269.40,350.80)" fill="none" stroke="#111" stroke-width="1.25" vector-effect="non-scaling-stroke" stroke-linejoin="round"/>
<text x="258.2" y="367.0" class="sem">27</text>
<path d="M0.03,0.27 C0.05,0.08 0.25,0 0.5,0 C0.8,0 0.97,0.1 0.97,0.27 C0.97,0.45 0.78,0.56 0.5,0.7 C0.22,0.83 0.05,0.9 0,1 L1,1" transform="matrix(5.6,0,-3.7,16.2,104.40,319.80)" fill="none" stroke="#111" stroke-width="1.25" vector-effect="non-scaling-stroke" stroke-linejoin="round"/>
<path d="M0.5,0.46 C0.2,0.46 0.06,0.36 0.06,0.23 C0.06,0.1 0.2,0 0.5,0 C0.8,0 0.94,0.1 0.94,0.23 C0.94,0.36 0.8,0.46 0.5,0.46 C0.15,0.46 0,0.58 0,0.73 C0,0.9 0.2,1 0.5,1 C0.8,1 1,0.9 1,0.73 C1,0.58 0.85,0.46 0.5,0.46 Z" transform="matrix(5.6,0,-3.7,16.2,111.90,319.80)" fill="none" stroke="#111" stroke-width="1.25" vector-effect="non-scaling-stroke" stroke-linejoin="round"/>
<text x="100.7" y="336.0" class="sem">28</text>
<path d="M0.03,0.27 C0.05,0.08 0.25,0 0.5,0 C0.8,0 0.97,0.1 0.97,0.27 C0.97,0.45 0.78,0.56 0.5,0.7 C0.22,0.83 0.05,0.9 0,1 L1,1" transform="matrix(5.6,0,-3.7,16.2,86.20,268.80)" fill="none" stroke="#111" stroke-width="1.25" vector-effect="non-scaling-stroke" stroke-linejoin="round"/>
<path d="M0.05,0.8 C0.1,0.93 0.25,1 0.45,1 C0.8,1 1,0.8 1,0.44 C1,0.15 0.8,0 0.5,0 C0.2,0 0,0.13 0,0.32 C0,0.5 0.2,0.62 0.5,0.62 C0.75,0.62 0.94,0.52 1,0.36" transform="matrix(5.6,0,-3.7,16.2,93.70,268.80)" fill="none" stroke="#111" stroke-width="1.25" vector-effect="non-scaling-stroke" stroke-linejoin="round"/>
<text x="82.5" y="285.0" class="sem">29</text>
<path d="M0.05,0.22 C0.1,0.06 0.28,0 0.5,0 C0.8,0 0.95,0.09 0.95,0.24 C0.95,0.39 0.75,0.47 0.42,0.47 C0.8,0.47 1,0.57 1,0.73 C1,0.9 0.8,1 0.5,1 C0.22,1 0.04,0.93 0,0.76" transform="matrix(5.6,0,-3.7,16.2,61.70,252.80)" fill="none" stroke="#111" stroke-width="1.25" vector-effect="non-scaling-stroke" stroke-linejoin="round"/>
<path d="M0.5,0 C0.85,0 1,0.22 1,0.5 C1,0.78 0.85,1 0.5,1 C0.15,1 0,0.78 0,0.5 C0,0.22 0.15,0 0.5,0 Z" transform="matrix(5.6,0,-3.7,16.2,69.20,252.80)" fill="none" stroke="#111" stroke-width="1.25" vector-effect="non-scaling-stroke" stroke-linejoin="round"/>
<text x="58.0" y="269.0" class="sem">30</text>
<path d="M0.05,0.22 C0.1,0.06 0.28,0 0.5,0 C0.8,0 0.95,0.09 0.95,0.24 C0.95,0.39 0.75,0.47 0.42,0.47 C0.8,0.47 1,0.57 1,0.73 C1,0.9 0.8,1 0.5,1 C0.22,1 0.04,0.93 0,0.76" transform="matrix(5.6,0,-3.7,16.2,38.70,235.80)" fill="none" stroke="#111" stroke-width="1.25" vector-effect="non-scaling-stroke" stroke-linejoin="round"/>
<path d="M0.1,0.2 L0.62,0 L0.62,1" transform="matrix(5.6,0,-3.7,16.2,46.20,235.80)" fill="none" stroke="#111" stroke-width="1.25" vector-effect="non-scaling-stroke" stroke-linejoin="round"/>
<text x="35.0" y="252.0" class="sem">31</text>
<path d="M0.05,0.22 C0.1,0.06 0.28,0 0.5,0 C0.8,0 0.95,0.09 0.95,0.24 C0.95,0.39 0.75,0.47 0.42,0.47 C0.8,0.47 1,0.57 1,0.73 C1,0.9 0.8,1 0.5,1 C0.22,1 0.04,0.93 0,0.76" transform="matrix(5.6,0,-3.7,16.2,14.70,216.10)" fill="none" stroke="#111" stroke-width="1.25" vector-effect="non-scaling-stroke" stroke-linejoin="round"/>
<path d="M0.03,0.27 C0.05,0.08 0.25,0 0.5,0 C0.8,0 0.97,0.1 0.97,0.27 C0.97,0.45 0.78,0.56 0.5,0.7 C0.22,0.83 0.05,0.9 0,1 L1,1" transform="matrix(5.6,0,-3.7,16.2,22.20,216.10)" fill="none" stroke="#111" stroke-width="1.25" vector-effect="non-scaling-stroke" stroke-linejoin="round"/>
<text x="11.0" y="232.3" class="sem">32</text>
<line x1="64.0" y1="60.0" x2="114.3" y2="118.0" stroke="#000" stroke-width="0.9" />
<line x1="105.6" y1="62.0" x2="117.5" y2="65.3" stroke="#000" stroke-width="0.9" />
<line x1="181.9" y1="62.6" x2="159.3" y2="108.0" stroke="#000" stroke-width="0.9" />
<line x1="211.7" y1="83.5" x2="195.4" y2="123.0" stroke="#000" stroke-width="0.9" />
<line x1="245.4" y1="98.7" x2="216.3" y2="144.0" stroke="#000" stroke-width="0.9" />
<line x1="282.7" y1="122.0" x2="247.8" y2="198.8" stroke="#000" stroke-width="0.9" />
<line x1="327.0" y1="144.0" x2="294.7" y2="213.0" stroke="#000" stroke-width="0.9" />
<line x1="365.3" y1="168.5" x2="350.7" y2="245.4" stroke="#000" stroke-width="0.9" />
<line x1="419.0" y1="205.0" x2="416.0" y2="283.8" stroke="#000" stroke-width="0.9" />
<line x1="463.4" y1="232.8" x2="463.4" y2="316.4" stroke="#000" stroke-width="0.9" />
<line x1="1004.7" y1="256.4" x2="902.2" y2="325.2" stroke="#000" stroke-width="0.9" />
<line x1="1006.0" y1="284.7" x2="903.6" y2="349.4" stroke="#000" stroke-width="0.9" />
<line x1="1006.0" y1="313.0" x2="909.0" y2="376.4" stroke="#000" stroke-width="0.9" />
<line x1="1006.0" y1="342.7" x2="906.3" y2="419.0" stroke="#000" stroke-width="0.9" />
<line x1="1004.7" y1="390.4" x2="976.4" y2="395.2" stroke="#000" stroke-width="0.9" />
<line x1="1006.0" y1="427.7" x2="956.2" y2="464.0" stroke="#000" stroke-width="0.9" />
<line x1="906.0" y1="502.0" x2="1002.5" y2="606.0" stroke="#000" stroke-width="0.9" />
<line x1="911.3" y1="534.7" x2="1002.0" y2="638.5" stroke="#000" stroke-width="0.9" />
<line x1="918.3" y1="582.4" x2="1002.0" y2="671.8" stroke="#000" stroke-width="0.9" />
<line x1="796.5" y1="594.8" x2="1002.0" y2="715.8" stroke="#000" stroke-width="0.9" />
<line x1="730.2" y1="483.5" x2="751.8" y2="460.6" stroke="#000" stroke-width="0.9" />
<line x1="752.5" y1="485.0" x2="764.4" y2="472.0" stroke="#000" stroke-width="0.9" />
<line x1="752.5" y1="485.0" x2="779.6" y2="480.4" stroke="#000" stroke-width="0.9" />
<line x1="605.0" y1="546.6" x2="590.0" y2="508.9" stroke="#000" stroke-width="0.9" />
<line x1="498.4" y1="587.3" x2="451.7" y2="571.2" stroke="#000" stroke-width="0.9" />
<line x1="368.0" y1="616.5" x2="363.9" y2="564.7" stroke="#000" stroke-width="0.9" />
<line x1="368.0" y1="616.5" x2="346.9" y2="578.8" stroke="#000" stroke-width="0.9" />
<line x1="368.0" y1="616.5" x2="438.9" y2="608.6" stroke="#000" stroke-width="0.9" />
<line x1="368.0" y1="616.5" x2="438.9" y2="627.0" stroke="#000" stroke-width="0.9" />
<line x1="277.2" y1="362.1" x2="399.8" y2="378.3" stroke="#000" stroke-width="0.9" />
<line x1="113.6" y1="315.0" x2="121.4" y2="300.8" stroke="#000" stroke-width="0.9" />
<line x1="103.0" y1="266.0" x2="142.0" y2="247.4" stroke="#000" stroke-width="0.9" />
<line x1="72.8" y1="247.4" x2="101.0" y2="147.0" stroke="#000" stroke-width="0.9" />
<line x1="45.0" y1="230.4" x2="82.0" y2="128.0" stroke="#000" stroke-width="0.9" />
<line x1="20.6" y1="212.0" x2="58.0" y2="117.0" stroke="#000" stroke-width="0.9" />
<line x1="392.2" y1="492.5" x2="392.2" y2="529.3" stroke="#999" stroke-width="0.9" />
<path d="M1010.9,232.7 L1023,232.7 L1023.3,726.5 L1011.9,726.5" fill="none" stroke="#000" stroke-width="1" stroke-linejoin="round" stroke-linecap="round" />
<line x1="1023.0" y1="484.9" x2="1041.0" y2="484.9" stroke="#000" stroke-width="1" />
</svg>
</body></html>
